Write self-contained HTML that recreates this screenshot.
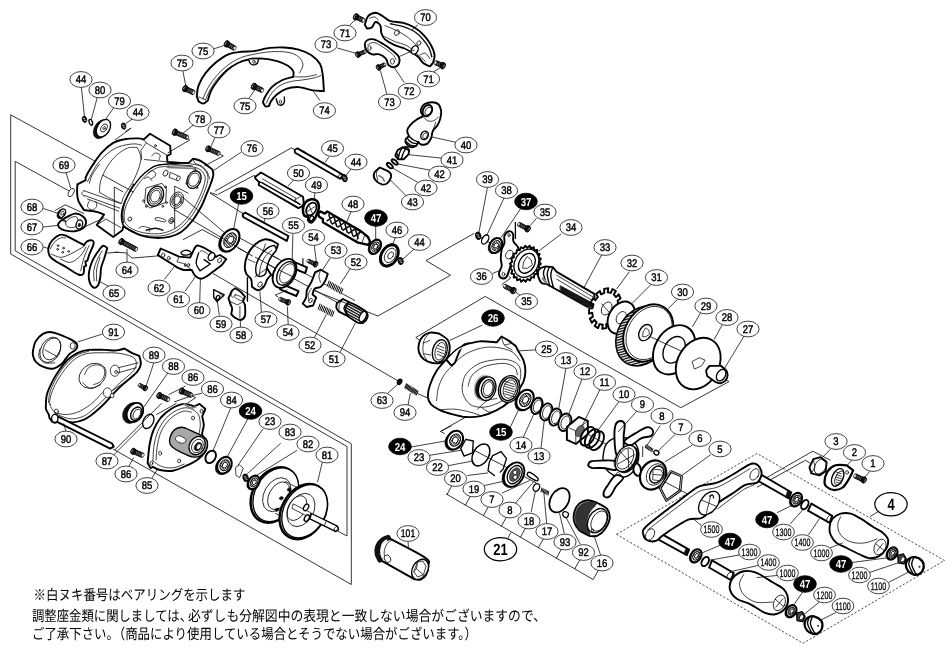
<!DOCTYPE html>
<html lang="ja"><head><meta charset="utf-8"><title>分解図</title>
<style>
html,body{margin:0;padding:0;background:#fff;}
body{width:952px;height:654px;overflow:hidden;font-family:"Liberation Sans","Noto Sans CJK JP",sans-serif;}
svg{display:block;will-change:transform;text-rendering:geometricPrecision;}
.g{fill:none;stroke:#111;stroke-width:.85;}
.gd{fill:none;stroke:#222;stroke-width:.8;stroke-dasharray:2.2 1.8;}
.ld{fill:none;stroke:#111;stroke-width:.8;}
.o{fill:#fff;stroke:#000;stroke-width:1.9;stroke-linejoin:round;stroke-linecap:round;}
.o2{fill:#fff;stroke:#000;stroke-width:1.35;stroke-linejoin:round;stroke-linecap:round;}
.t{fill:none;stroke:#111;stroke-width:.8;stroke-linejoin:round;stroke-linecap:round;}
.tw{fill:#fff;stroke:#111;stroke-width:.8;stroke-linejoin:round;}
.k{fill:#111;stroke:#000;stroke-width:.5;}
.gy{fill:#888;stroke:#000;stroke-width:.6;}
.le{fill:#fff;stroke:#222;stroke-width:.85;}
.lb{fill:#000;stroke:#000;stroke-width:.8;}
.lt{font:11px "Liberation Sans",sans-serif;text-anchor:middle;fill:#000;stroke:#000;stroke-width:.45;}
.ltb{font:bold 11.5px "Liberation Sans",sans-serif;text-anchor:middle;fill:#fff;}
.ltL{font:bold 16.2px "Liberation Sans",sans-serif;text-anchor:middle;fill:#000;}
.ltw{font:10.8px "Liberation Sans",sans-serif;text-anchor:middle;fill:#000;stroke:#000;stroke-width:.25;}
.jp{font:14.5px "Liberation Sans","Noto Sans CJK JP",sans-serif;fill:#000;}
</style></head><body>
<svg width="952" height="654" viewBox="0 0 952 654">
<defs>
<pattern id="kn" width="1.5" height="1.5" patternUnits="userSpaceOnUse"><rect width="1.5" height="1.5" fill="#fff"/><circle cx=".75" cy=".75" r=".48" fill="#000"/></pattern>
<pattern id="kd" width="1.4" height="1.4" patternUnits="userSpaceOnUse"><rect width="1.4" height="1.4" fill="#000"/><circle cx=".7" cy=".7" r=".3" fill="#bbb"/></pattern>
<pattern id="hz" width="1.6" height="1.6" patternUnits="userSpaceOnUse" patternTransform="rotate(-20)"><rect width="1.6" height="1.6" fill="#fff"/><rect width="1.6" height=".8" fill="#000"/></pattern>
<pattern id="bg" width="1.3" height="1.3" patternUnits="userSpaceOnUse" patternTransform="rotate(30)"><rect width="1.3" height="1.3" fill="#fff"/><rect width=".55" height="1.3" fill="#000"/></pattern>
<pattern id="sp" width="2.4" height="2.4" patternUnits="userSpaceOnUse" patternTransform="rotate(29)"><rect width="2.4" height="2.4" fill="#fff"/><rect width="2.4" height="1.3" fill="#000"/></pattern>
</defs>
<rect width="952" height="654" fill="#fff"/>
<g id="guides" class="g">
<!-- box A (outer-left) -->
<path d="M10.7,114.8 L133,182"/>
<path d="M10.7,114.8 V254 L347,446.5 V536 L337.5,531"/>
<!-- box B -->
<path d="M15.2,161.4 L70,191.5"/>
<path d="M15.2,161.4 V250.8 L351.3,443.8 V584.5 L113,449"/>
</g>

<g id="frame76">
<path class="o" d="M77.4,184.3L85.7,180.2C85.8,179.4 84.9,178.8 86.3,176C87.6,173.1 91.3,167.1 94,163.1C96.6,159.2 99,155.5 102.2,152.1C105.4,148.8 109.6,145.1 113.2,142.9C116.9,140.8 120,140 124.3,139.3C128.5,138.5 135.7,138.3 138.9,138.4C142.2,138.4 142.6,139.4 143.5,139.6L150,133.8L170.2,145.7L170.7,154L167,155.8L167.4,161.9C169.4,162 174,162.4 177.5,162.6C181,162.8 186.3,163 188.5,163.1L193.1,158.6C194.8,159.1 198.1,159.5 201.4,161.3C204.6,163.1 210.2,167.9 212.4,169.6C212.6,170.7 213.6,172.6 213.3,175.1C213,177.5 211.6,181.2 210.5,184.3C209.5,187.3 208.4,189.8 206.9,193.4C205.3,197.1 203.8,201.7 201.4,206.3C198.9,210.9 195.5,216.7 192.2,221C188.8,225.3 184.8,229.4 181.2,232C177.5,234.6 174.4,235.6 170.2,236.6C165.9,237.6 160.4,238.1 155.5,237.9C150.6,237.6 145.1,236.6 140.8,235.3C136.5,234 132.7,231.7 129.8,230.2C126.9,228.6 124.6,226.9 123.3,226.1L122.4,230.2L113.2,236.9L96.7,225L104.1,214.5C102.6,214 100.1,212.6 96.7,211.8C93.4,211 86.4,210.3 83.9,210C82.8,208.1 79.5,203.7 78.4,200.8C77.2,197.9 77.2,195.3 77.1,192.5C76.9,189.8 77.4,185.9 77.4,184.3Z"/>
<path class="tw" d="M99.5,192.5C99.7,190.1 99.4,185 100.8,180.6C102.1,176.1 105,170.2 107.7,165.9C110.4,161.6 113.5,157.9 116.9,154.9C120.3,151.9 124.6,149.1 127.9,147.9C131.3,146.7 135.3,147.6 137.1,147.5C137.8,149.4 140.5,153.4 140.8,156.7C141.1,160.1 140.3,163.4 138.9,167.7C137.6,172 135,177.8 132.5,182.4C130.1,187 126.1,191.8 124.3,195.3C122.4,198.8 122.1,201.9 121.5,203.5C119.5,202.6 115.1,200.8 111.4,198.9C107.7,197.1 101.9,193.8 99.5,192.5L99.5,192.5Z"/>
<path class="g" d="M102.6,175.1L133.4,192"/>
<path class="g" d="M114.3,187L114.3,200.8"/>
<path class="g" d="M114.3,187L123.3,192"/>
<path class="t" d="M87.5,181.5C89.1,178.7 93.4,169.7 96.7,165C100.1,160.3 104.1,156.4 107.7,153.4C111.4,150.4 114.5,148.4 118.7,146.8C123,145.2 129.6,144.1 133.4,143.9C137.3,143.6 140.3,145.1 141.7,145.3"/>
<path class="t" d="M89.4,183.3C89.8,182 90.4,178.3 92.1,175.1C93.8,171.9 98.2,165.9 99.5,164.1"/>
<path class="t" d="M83.9,190.7L120.6,203.5"/>
<path class="t" d="M83.9,195.3L119.7,208.1"/>
<path class="t" d="M87.5,198.9L118.7,211.2"/>
<path class="t" d="M83.9,190.7C83.5,191.1 81.7,192.5 81.7,193.4C81.7,194.4 83.5,195.7 83.9,196.2"/>
<path class="t" d="M89.4,200.8C89.1,201.7 87.1,204.8 87.5,206.3C88,207.8 90.6,210 92.1,210C93.7,210 96.1,207.7 96.7,206.3C97.3,204.9 96,202.5 95.8,201.7"/>
<path class="t" d="M143.5,139.6L146.3,142.9L166.5,154.9"/>
<path class="t" d="M146.3,142.9L140.8,150.3L141.7,159.5"/>
<ellipse class="t" cx="155.5" cy="145.7" rx="0.9" ry="1.2"/>
<path class="t" d="M151.8,155.8C152.4,155.3 154.1,153.2 155.5,153C156.8,152.9 159.4,153.8 160.1,154.9C160.7,156 159.3,158.7 159.1,159.5"/>
<path class="t" d="M144.5,159.5L167.4,161.9"/>
<path class="t" d="M167.4,164.1C163.4,164.5 159.3,164.4 155.5,165.9C151.6,167.4 147.7,170.5 144.5,173.2C141.2,176 138.9,178.7 136.2,182.4C133.4,186.1 130.2,191 127.9,195.3C125.6,199.6 123.5,204.1 122.4,208.1C121.3,212.1 121.2,216.1 121.5,219.1C121.8,222.2 122.3,224.3 124.3,226.5C126.2,228.7 129.8,230.8 133.4,232.4C137.1,233.9 141.4,235.1 146.3,235.7C151.2,236.2 157.6,236.6 162.8,235.7C168,234.7 173.2,232.8 177.5,230.2C181.8,227.6 185.1,224 188.5,220.1C191.9,216.1 195.1,210.9 197.7,206.3C200.3,201.7 202.4,196.8 204.1,192.5C205.8,188.2 207.3,183.8 207.8,180.6C208.2,177.4 207.9,175.5 206.9,173.2C205.8,170.9 203.8,168.3 201.4,166.8C198.9,165.3 195.9,164.6 192.2,164.1C188.5,163.5 183.5,163.3 179.3,163.3C175.2,163.3 171.4,163.6 167.4,164.1Z"/>
<path class="t" d="M179.3,163.3C177.3,163.4 171.4,163.6 167.4,164.1C163.4,164.5 159.3,164.4 155.5,165.9C151.6,167.4 147.7,170.5 144.5,173.2C141.2,176 138.9,178.7 136.2,182.4C133.4,186.1 130.2,191 127.9,195.3C125.6,199.6 123.5,204.1 122.4,208.1C121.3,212.1 121.2,216.1 121.5,219.1C121.8,222.2 122.3,224.3 124.3,226.5C126.2,228.7 131.9,231.4 133.4,232.4" style="stroke-width:1.15;stroke:#000"/>
<path class="t" d="M168.3,166.3C164.4,166.6 160.1,166.6 156.4,168.1C152.7,169.6 149.3,172.4 146.3,175.1C143.3,177.7 141.2,180.4 138.6,183.9C136,187.4 132.9,192.1 130.7,196.2C128.4,200.3 126.2,204.7 125.2,208.5C124.1,212.3 124,216 124.3,218.8C124.5,221.5 125.1,223.1 126.8,225C128.6,226.9 131.5,228.8 134.9,230.2C138.3,231.5 142.5,232.8 147,233.3C151.5,233.8 157.2,234.2 162.1,233.3C166.9,232.4 171.9,230.4 176,227.9C180.1,225.5 183.4,222.2 186.7,218.4C189.9,214.6 193,209.6 195.5,205.2C198,200.8 200.1,196 201.7,192C203.3,187.9 204.6,183.8 205,181C205.5,178.1 205.2,176.7 204.3,174.7C203.4,172.8 201.7,170.5 199.5,169.2C197.4,167.9 194.8,167.2 191.4,166.6C188.1,166.1 183.6,166 179.7,165.9C175.8,165.8 172.2,165.9 168.3,166.3Z"/>
<path class="t" d="M133.4,184.3C132.2,186.7 127.9,194.4 126.1,198.9C124.3,203.5 123.2,207.8 122.8,211.8C122.3,215.8 123.2,221 123.3,222.8" style="stroke-width:1.6;stroke-dasharray:1.2 1.6"/>
<path class="t" d="M146.3,187.9L161.9,183.3L166.5,188.8L165.6,202.6L150,208.1L144.8,203.5Z"/>
<ellipse class="tw" cx="155.5" cy="196.2" rx="7.6" ry="10.5" transform="rotate(25 155.5 196.2)"/>
<ellipse class="t" cx="155.5" cy="196.2" rx="6" ry="8.3" transform="rotate(25 155.5 196.2)"/>
<ellipse class="t" cx="155.5" cy="196.2" rx="4.5" ry="6.2" transform="rotate(25 155.5 196.2)"/>
<ellipse class="t" style="stroke-width:1.3" cx="155.5" cy="196.2" rx="7.6" ry="10.5" transform="rotate(25 155.5 196.2)"/>
<ellipse class="t" cx="176.9" cy="200.2" rx="6.4" ry="8.6" transform="rotate(25 176.9 200.2)"/>
<ellipse class="t" cx="176.9" cy="200.2" rx="4.8" ry="6.4" transform="rotate(25 176.9 200.2)"/>
<ellipse class="t" cx="176.9" cy="200.2" rx="3.4" ry="4.6" transform="rotate(25 176.9 200.2)"/>
<ellipse class="t" cx="194" cy="179.7" rx="6.6" ry="9.2" transform="rotate(25 194 179.7)"/>
<ellipse class="t" cx="194" cy="179.7" rx="5" ry="7" transform="rotate(25 194 179.7)"/>
<ellipse class="t" style="stroke-width:1.2" cx="194" cy="179.7" rx="6.6" ry="9.2" transform="rotate(25 194 179.7)"/>
<path class="tw" d="M170.2,172.3L178.4,176L177.5,180.6L169.2,177.3Z"/>
<ellipse class="tw" cx="178.4" cy="178.4" rx="1.6" ry="2.6" transform="rotate(30 178.4 178.4)"/>
<ellipse class="t" cx="165.6" cy="173.2" rx="2.2" ry="3.2" transform="rotate(30 165.6 173.2)"/>
<ellipse class="t" cx="165.6" cy="187" rx="0.9" ry="1.1"/>
<ellipse class="t" cx="146.3" cy="206.3" rx="0.9" ry="1.1"/>
<ellipse class="t" cx="143.5" cy="200.8" rx="0.9" ry="1.1"/>
<ellipse class="t" cx="194.9" cy="169.2" rx="0.9" ry="1.1"/>
<ellipse class="t" cx="196.8" cy="187.6" rx="0.9" ry="1.1"/>
<ellipse class="t" cx="186.7" cy="183.3" rx="0.9" ry="1.1"/>
<ellipse class="t" cx="162.8" cy="206.3" rx="0.9" ry="1.1"/>
<ellipse class="t" cx="166.5" cy="202.6" rx="0.9" ry="1.1"/>
<ellipse class="t" cx="129.8" cy="219.1" rx="1.7" ry="2.2" transform="rotate(30 129.8 219.1)"/>
<ellipse class="t" cx="171.4" cy="220.6" rx="2.4" ry="3.2" transform="rotate(30 171.4 220.6)"/>
<ellipse class="t" cx="171.4" cy="220.6" rx="1.2" ry="1.6" transform="rotate(30 171.4 220.6)"/>
<path class="t" d="M155.5,218.2C156.1,217.8 157.5,217.4 159.1,217.7C160.8,218 164.6,219.4 165.6,220.1C166.5,220.8 165.9,221.8 164.6,221.9C163.4,222 159.7,220.9 158.2,220.6C156.7,220.3 155.9,220.5 155.5,220.1C155,219.7 154.9,218.6 155.5,218.2Z"/>
<path class="t" style="stroke:#777;stroke-width:1.6" d="M167.4,167.4L194.9,168.5"/>
<path class="t" d="M170.2,164.1L192.2,165.9"/>
<path class="g" d="M174.7,186.1L174.7,228.3"/>
<path class="g" d="M174.7,186.1L188.5,193.4"/>
<path class="t" d="M138.9,228.3C139.6,228 140.8,226.5 142.6,226.5C144.5,226.5 148.9,227.4 150,228.3C151,229.2 149.2,231.4 149,232"/>
<path class="t" d="M146.3,230.2C147.8,229.8 152.7,228.3 155.5,228.3C158.2,228.3 161.6,229.8 162.8,230.2" style="stroke-width:1.5"/>
<path class="t" d="M148.1,173.2C148.7,172.8 150.6,170.5 151.8,170.5C153,170.5 155,172.2 155.5,173.2C155.9,174.3 155.3,176 154.5,176.9C153.8,177.8 151.5,178.4 150.9,178.7"/>
<path class="t" d="M144.5,178.7C145.1,178.4 146.9,176.6 148.1,176.9C149.3,177.2 151.2,180 151.8,180.6"/>
<path class="t" d="M96.7,225L105.9,219.1L120.6,227.4"/>
<path class="g" d="M114.3,200.8L114.3,236.9"/>
<path class="t" d="M193.1,158.6C193.4,159.3 193.6,161.9 194.9,163.1C196.3,164.4 199.4,164.5 201.4,165.9C203.4,167.3 205.5,169.3 206.9,171.4C208.2,173.5 209.2,177.5 209.6,178.7"/>
</g>
<g id="p79">
<g transform="translate(84.5 119.3) rotate(-15)"><ellipse cx="0" cy="0" rx="2.2" ry="3.2" fill="#111" stroke="#000" stroke-width=".8"/><path d="M-1.3,-1.4L0.8,-0.3M-0.8,0.6L1.3,1.7" stroke="#ddd" stroke-width=".7" fill="none"/></g>
<ellipse class="o2" cx="90.8" cy="122.3" rx="1.6" ry="3" transform="rotate(-20 90.8 122.3)"/>
<ellipse class="k" cx="101" cy="129.2" rx="6.8" ry="10.2" transform="rotate(30 101 129.2)"/>
<ellipse class="o2" cx="103.4" cy="128.2" rx="6.2" ry="9.5" transform="rotate(30 103.4 128.2)"/>
<ellipse class="t" cx="104" cy="128" rx="2.8" ry="4.4" transform="rotate(30 104 128)"/>
<ellipse class="t" cx="104.2" cy="128" rx="1" ry="1.6" transform="rotate(30 104.2 128)"/>
<g transform="translate(123.6 126.1) rotate(-15)"><ellipse cx="0" cy="0" rx="2.2" ry="3.2" fill="#111" stroke="#000" stroke-width=".8"/><path d="M-1.3,-1.4L0.8,-0.3M-0.8,0.6L1.3,1.7" stroke="#ddd" stroke-width=".7" fill="none"/></g>
</g>
<g transform="translate(174.9 132.2) rotate(22.9)"><rect x="0" y="-2.1" width="14.2" height="4.2" rx="1" fill="#111" stroke="#000" stroke-width=".8"/><ellipse cx="0" cy="0" rx="2.5" ry="3.4" fill="#111" stroke="#000" stroke-width=".8"/><path d="M3.4,-1.5L3.9,1.5M5.1,-1.5L5.6,1.5M6.8,-1.5L7.3,1.5M8.5,-1.5L9,1.5M10.2,-1.5L10.7,1.5M11.9,-1.5L12.4,1.5" stroke="#aaa" stroke-width=".45" fill="none"/><path d="M-1,-1.7Q-1.9,0 -1,1.7" stroke="#ccc" stroke-width=".6" fill="none"/><ellipse cx="13.6" cy="0" rx="1.2" ry="1.7" fill="#fff" stroke="#000" stroke-width=".5"/></g>
<g transform="translate(208.2 148.8) rotate(24)"><rect x="0" y="-2" width="12.4" height="4" rx="1" fill="#111" stroke="#000" stroke-width=".8"/><ellipse cx="0" cy="0" rx="2.4" ry="3.2" fill="#111" stroke="#000" stroke-width=".8"/><path d="M3.3,-1.4L3.8,1.4M5,-1.4L5.5,1.4M6.7,-1.4L7.2,1.4M8.4,-1.4L8.9,1.4M10.1,-1.4L10.6,1.4" stroke="#aaa" stroke-width=".45" fill="none"/><path d="M-1,-1.6Q-1.8,0 -1,1.6" stroke="#ccc" stroke-width=".6" fill="none"/><ellipse cx="11.8" cy="0" rx="1.1" ry="1.6" fill="#fff" stroke="#000" stroke-width=".5"/></g>
<ellipse class="tw" cx="71.2" cy="192.5" rx="2.4" ry="4.6" transform="rotate(28 71.2 192.5)"/>
<g id="p66_68">
<path class="o" d="M58,224.5C58.5,223.8 59,222.4 60.5,221.1C62,219.9 64.9,218.2 67.2,216.9C69.6,215.7 72.3,213.7 74.8,213.6C77.3,213.4 80.5,214.7 82.4,216.1C84.3,217.5 86,220 86.1,222C86.2,224 85.1,226.3 83.2,227.9C81.4,229.4 77.9,230.8 74.8,231.2C71.7,231.7 67.2,231 64.7,230.4C62.2,229.8 60.8,228.9 59.7,227.9C58.5,226.9 58.3,225.2 58,224.5Z"/>
<path class="t" d="M65.6,222.8C66,221.3 68.8,218.8 70.6,217.8C72.4,216.8 75.2,216.1 76.5,216.9C77.8,217.8 78.5,221.1 78.2,222.8C77.9,224.5 76.5,226.3 74.8,227C73.1,227.7 69.6,227.7 68.1,227C66.5,226.3 65.1,224.4 65.6,222.8Z"/>
<ellipse class="o2" cx="79.4" cy="224.5" rx="3.2" ry="4.6" transform="rotate(15 79.4 224.5)"/>
<ellipse class="k" cx="79.4" cy="225" rx="1.2" ry="1.8" transform="rotate(15 79.4 225)"/>
<ellipse class="k" cx="61" cy="213.9" rx="3.6" ry="5.2" transform="rotate(30 61 213.9)"/>
<ellipse class="o2" cx="62.2" cy="213.2" rx="3" ry="4.6" transform="rotate(30 62.2 213.2)"/>
<ellipse class="t" cx="62.5" cy="213.2" rx="1.4" ry="2.2" transform="rotate(30 62.5 213.2)"/>
<path class="t" d="M60.5,217.8C60.9,218.2 62.2,219.7 63,220.3C63.9,220.9 65.1,221 65.6,221.1" style="stroke-width:1.4"/>
<path class="o" d="M48.4,248.1C48.8,245.5 50.2,242.7 52.1,240.5C54,238.3 57.3,235.6 59.7,234.8C62,234 65.1,235.6 66.4,235.8L84.1,245.2C84.7,244.4 85.7,242.1 87.1,241.3C88.5,240.6 91.4,240 92.5,240.5C93.6,241 94,242 93.5,244.2C93,246.5 90.5,251.2 89.5,254C88.5,256.7 87.8,259.4 87.4,260.7L85.4,261.5L86.1,265.8L84.1,266.6C83.9,268 84.4,272.5 83.4,273.8C82.4,275.2 80.9,275.5 78.2,274.5C75.5,273.5 71,270 67.2,267.8C63.5,265.5 58.4,263 55.5,261C52.5,259.1 50.9,258.2 49.7,256C48.6,253.8 48,250.7 48.4,248.1Z"/>
<path class="t" d="M50.4,248.9C51,247.9 52.4,244.3 54.1,242.5C55.8,240.7 58.6,238.7 60.5,238C62.4,237.2 64.7,238 65.6,238"/>
<path class="t" d="M51.2,254C52.8,254.5 57.3,257.3 60.5,257.3C63.7,257.3 66.7,255.8 70.6,254C74.5,252.1 81.8,247.7 84.1,246.4"/>
<path class="t" d="M60.5,259C62.2,259.6 67.2,263 70.6,262.4C74,261.8 78.2,258.2 80.7,255.7C83.2,253.1 84.9,248.6 85.8,247.2"/>
<path class="t" d="M80.7,270.8C81.3,268.6 82.7,261.5 84.1,257.3C85.5,253.1 88.3,247.5 89.1,245.6"/>
<ellipse class="t" cx="58" cy="245.6" rx="0.9" ry="0.9"/>
<ellipse class="t" cx="63.5" cy="248.1" rx="0.9" ry="0.9"/>
<ellipse class="t" cx="57.6" cy="249.3" rx="0.9" ry="0.9"/>
<ellipse class="t" cx="62.7" cy="252.3" rx="0.9" ry="0.9"/>
<ellipse class="t" cx="68.6" cy="251.4" rx="0.9" ry="0.9"/>
<path class="o" d="M102.9,245.9C104.6,245.2 106.4,247.6 107.3,248.1C106.8,249.9 105.6,254.1 104.6,257.3C103.6,260.6 102,264.1 101.2,267.4C100.5,270.8 100.8,274.5 100.2,277.5C99.7,280.6 99,283.9 97.9,285.6C96.8,287.3 95.1,288.3 93.7,287.6C92.3,287 90.2,284.4 89.5,281.8C88.7,279.1 88.6,275.2 89.1,271.6C89.6,268.1 91.1,263.9 92.5,260.7C93.9,257.5 95.8,254.8 97.5,252.3C99.3,249.8 101.3,246.6 102.9,245.9Z"/>
<path class="t" d="M102.3,250.6C101.3,252.3 98.1,257.3 96.7,260.7C95.3,264.1 94.3,267.4 93.8,270.8C93.4,274.2 94.1,279.2 94.2,280.9"/>
<path class="t" d="M100.1,257.3C99.5,259.3 97.3,265.2 96.7,269.1C96.1,273.1 96.7,278.9 96.7,280.9"/>
</g>
<g transform="translate(121.5 241.6) rotate(27.9)"><rect x="0" y="-2.2" width="17.3" height="4.4" rx="1" fill="#111" stroke="#000" stroke-width=".8"/><ellipse cx="0" cy="0" rx="2.5" ry="3.3" fill="#111" stroke="#000" stroke-width=".8"/><path d="M3.4,-1.5L3.9,1.5M5.1,-1.5L5.6,1.5M6.8,-1.5L7.3,1.5M8.5,-1.5L9,1.5M10.2,-1.5L10.7,1.5M11.9,-1.5L12.4,1.5M13.6,-1.5L14.1,1.5M15.3,-1.5L15.8,1.5" stroke="#aaa" stroke-width=".45" fill="none"/><path d="M-1,-1.6Q-1.8,0 -1,1.6" stroke="#ccc" stroke-width=".6" fill="none"/><ellipse cx="16.7" cy="0" rx="1.2" ry="1.8" fill="#fff" stroke="#000" stroke-width=".5"/></g>
<g id="p62">
<path class="o" d="M157.8,255.1L160.7,248.5L179.1,256.6L190.1,257.6C191.2,255.5 193.9,249.1 195.3,247.1C196.7,245 197.1,245.5 198.5,245.6C200,245.7 203,247.4 204.1,247.8C205.9,248.9 211,251.7 212.9,253.2C214.9,254.8 215.1,256.3 215.6,257.1C216.5,256.7 218.2,254.8 220,255.1C221.8,255.5 224.9,258.3 226.2,259.1C225.3,260.3 223.5,263.3 221.8,265C220,266.7 218.3,267.6 215.9,269.4C213.5,271.2 209.8,274.3 207.4,275.9C204.9,277.5 203.2,278.8 201.2,278.8C199.2,278.8 196.9,277.4 195.3,275.9C193.7,274.4 192.5,271.2 191.8,270L183.5,270L177.9,267.9L173.2,264.7L157.8,255.1Z"/>
<path class="o2" d="M198.5,253.2C198.1,255.2 195.9,260.3 196.2,263.2C196.4,266.2 199.2,269.4 200,270.9L210.3,264C209.1,263.1 205.1,260.3 204.1,259.6"/>
<path class="t" d="M198.5,253.2C199.1,252.8 200.3,250.5 201.9,250.7C203.5,250.9 207.2,253.8 208.2,254.4"/>
<ellipse class="o2" cx="211.5" cy="256.6" rx="3" ry="4.2" transform="rotate(30 211.5 256.6)"/>
<ellipse class="t" cx="219.6" cy="260.3" rx="1.8" ry="2.6" transform="rotate(30 219.6 260.3)"/>
<ellipse class="t" cx="163.2" cy="255.1" rx="1.6" ry="2.2"/>
<ellipse class="t" cx="168.8" cy="258.1" rx="1.3" ry="1.8"/>
<ellipse class="t" cx="185.3" cy="265" rx="1" ry="1.6"/>
<ellipse class="t" cx="188.7" cy="265" rx="1" ry="1.6"/>
<path class="t" d="M179.1,256.6L176.9,261.8L183.5,263.5L191.8,270"/>
<path class="o2" d="M181.3,252.2C181.8,251.5 183.5,250.4 185,250.3C186.5,250.2 189.2,250.9 190.1,251.5C191.1,252 191.2,253.1 190.6,253.7C190,254.3 187.9,255 186.5,255.1C185,255.3 182.9,254.9 182.1,254.4C181.2,253.9 180.8,252.9 181.3,252.2Z"/>
</g>
<g id="p91">
<path class="o" d="M33,350.8C33.4,348.4 34.3,343.7 35.9,340.9C37.6,338.1 40.6,335.4 42.9,333.9C45.2,332.5 47.4,332 49.9,332C52.3,332 54.2,332.6 57.8,333.9C61.4,335.3 68.5,338.2 71.7,339.9C74.9,341.7 76.4,342.9 77.1,344.5C77.8,346 77.3,347.5 75.9,349.3C74.5,351 71.1,352.4 68.7,354.8C66.4,357.2 64.4,361.4 61.8,363.8C59.1,366.1 56,368.2 52.8,368.7C49.7,369.2 45.7,367.9 42.9,366.7C40.1,365.6 37.6,363.6 35.9,361.8C34.3,360 33.4,357.6 33,355.8C32.5,354 32.5,353.3 33,350.8Z"/>
<ellipse class="t" cx="50.4" cy="349.9" rx="9.6" ry="13.4" transform="rotate(28 50.4 349.9)"/>
<ellipse class="t" cx="51.8" cy="348.9" rx="8.2" ry="11.6" transform="rotate(28 51.8 348.9)"/>
<path class="t" d="M39.9,348.9C39.7,350.2 38.1,354.5 38.9,356.8C39.7,359.1 42.2,361.8 44.9,362.8C47.5,363.8 53.2,362.8 54.8,362.8"/>
<path class="t" d="M44.9,349.9L57.8,356.8"/>
<ellipse class="tw" cx="72.7" cy="345.9" rx="2.6" ry="3.2"/>
</g><g id="p90">
<path class="o" d="M45.9,404.5C46,402 45.9,398.2 46.9,394.6C47.9,390.9 49.9,386.6 51.8,382.7C53.8,378.7 56.1,374.5 58.8,370.7C61.4,366.9 64.6,362.8 67.7,359.8C70.9,356.8 74.2,354.5 77.7,352.8C81.2,351.2 84.1,350.3 88.6,349.9C93.1,349.4 99.9,349.8 104.5,349.9C109.2,350 113.1,350.7 116.5,350.4C119.8,350.2 122.8,348.9 124.4,348.5C126,349.4 129.9,352 132.4,353.2C134.8,354.5 137.9,355.3 139.3,355.8C139.6,357.4 141.2,361.1 140.9,363.8C140.6,366.4 139.4,369.1 137.3,371.7C135.2,374.4 131.2,377.2 128.4,379.7C125.6,382.2 123.1,384.1 120.4,386.6C117.8,389.1 115.1,391.8 112.5,394.6C109.8,397.4 107.5,400.5 104.5,403.5C101.5,406.5 97.9,409.8 94.6,412.5C91.3,415.1 88.3,417.8 84.6,419.4C81,421.1 76.5,422.3 72.7,422.4C68.9,422.5 64,420.5 61.8,420C60.4,420.6 56.8,423 54.8,422.8C52.8,422.6 50.8,420.2 49.9,418.8C48.9,417.4 49.1,415.3 48.9,414.5C48.3,413.5 46.6,411.1 46.1,409.5C45.6,407.8 45.7,407 45.9,404.5Z"/>
<path class="t" d="M49.9,404.5C49.2,401.7 50,398.9 50.8,395.6C51.7,392.3 53.4,388.3 55.2,384.6C57,381 59.3,377.3 61.8,373.7C64.3,370.1 67.4,366.1 70.3,363.2C73.2,360.3 75.9,358.1 79.1,356.4C82.3,354.8 85.4,353.8 89.6,353.2C93.9,352.6 99.7,352.8 104.5,352.8C109.3,352.8 113.8,352.6 118.4,353.2C123.1,353.9 129.4,355.2 132.4,356.8C135.3,358.4 136.1,360.5 136.3,362.8C136.6,365 135.7,367.8 133.9,370.3C132.2,372.8 128.6,375.4 126,377.7C123.4,380 121,381.8 118.4,384.2C115.9,386.7 113.1,389.4 110.5,392.2C107.8,395 105.5,398.1 102.5,400.9C99.6,403.8 96.1,407 93,409.5C89.9,412 87.2,414.5 83.8,416.1C80.5,417.6 76.2,418.7 72.7,418.8C69.2,419 65.8,417.9 62.8,416.8C59.8,415.8 57,414.5 54.8,412.5C52.7,410.4 50.5,407.3 49.9,404.5Z"/>
<path class="t" d="M48.5,402.5C48.7,400.9 48.9,396.1 49.9,392.6C50.8,389.1 52.6,385.2 54.4,381.7C56.2,378.1 58.3,374.5 60.8,371.1C63.2,367.7 66.2,364 69.1,361.2C72.1,358.4 75,356 78.3,354.4C81.5,352.8 86.9,351.9 88.6,351.4"/>
<ellipse class="t" cx="92.6" cy="375.7" rx="14.5" ry="11.5" transform="rotate(-35 92.6 375.7)"/>
<path class="t" d="M84.6,374.7C85.3,373.5 86.6,369.4 88.6,367.7C90.6,366.1 94.1,364.8 96.6,364.8C99.1,364.8 102.2,366.1 103.5,367.7C104.9,369.4 105,372.4 104.5,374.7C104,377 102.4,380 100.5,381.7C98.7,383.3 94.7,384.1 93.6,384.6"/>
<path class="t" d="M82.7,382.7C84,383.6 87.6,388.3 90.6,388.6C93.6,388.9 98.9,385.3 100.5,384.6"/>
<ellipse class="tw" cx="114.9" cy="370.7" rx="4.6" ry="5.6"/>
<ellipse class="t" cx="116.1" cy="371.9" rx="1.3" ry="1.6"/>
<ellipse class="tw" cx="107.5" cy="392.6" rx="4.2" ry="4.8"/>
<ellipse class="tw" cx="112.1" cy="395.6" rx="1.8" ry="2.2"/>
<path class="t" d="M118.4,367.7L138.3,362.8"/>
<path class="t" d="M118.4,372.7L136.3,367.7"/>
<path class="t" d="M112.5,390.6L128.4,379.7"/>
<path class="t" d="M54.8,412.5C56.5,412.8 61.1,414.5 64.8,414.5C68.4,414.5 72.4,414.1 76.7,412.5C81,410.8 86.3,407.8 90.6,404.5C94.9,401.2 100.5,394.6 102.5,392.6"/>
<ellipse class="t" cx="56.4" cy="411.5" rx="2" ry="2.4"/>
<path class="o" d="M57.2,416.1L112.1,443.5L113.7,446.7L110.1,448.7L55.2,420.8Z"/>
<ellipse class="o2" cx="54.8" cy="418.4" rx="3.2" ry="4"/>
</g>
<g transform="translate(145.3 388.2) rotate(-151.4)"><rect x="0" y="-1.8" width="7.5" height="3.6" rx="1" fill="#111" stroke="#000" stroke-width=".8"/><ellipse cx="0" cy="0" rx="2.1" ry="2.8" fill="#111" stroke="#000" stroke-width=".8"/><path d="M3,-1.3L3.5,1.3M4.7,-1.3L5.2,1.3" stroke="#aaa" stroke-width=".45" fill="none"/><path d="M-0.8,-1.4Q-1.5,0 -0.8,1.4" stroke="#ccc" stroke-width=".6" fill="none"/><ellipse cx="6.9" cy="0" rx="1" ry="1.4" fill="#fff" stroke="#000" stroke-width=".5"/></g>
<ellipse class="k" cx="131.7" cy="413" rx="8.4" ry="11" transform="rotate(30 131.7 413)"/>
<ellipse class="o" cx="134.9" cy="412.5" rx="7.6" ry="10.2" transform="rotate(30 134.9 412.5)"/>
<ellipse class="o2" cx="136.3" cy="413.7" rx="5" ry="7.2" transform="rotate(30 136.3 413.7)"/>
<ellipse class="t" cx="136.9" cy="414.1" rx="3.4" ry="5.2" transform="rotate(30 136.9 414.1)"/>
<ellipse class="o2" cx="148.3" cy="421.4" rx="5" ry="7.6" transform="rotate(28 148.3 421.4)"/>
<g id="p85">
<path class="o" d="M147.6,463C148,459.2 148.7,449.6 149.7,444C150.7,438.5 151.8,434 153.7,429.6C155.6,425.2 158,421 160.9,417.5C163.9,414.1 167.5,411 171.4,408.7C175.3,406.4 180.4,404.3 184.2,403.9C188,403.5 192.2,406 194.2,406.5L199.5,403.9L205.4,409L202.2,416.4C202.5,418.2 203.8,422 203.8,425.1C203.8,428.1 201.7,432.1 202.2,434.7C202.7,437.3 206.1,438.2 206.7,440.8C207.3,443.4 207.5,447.2 205.9,450.5C204.3,453.7 200.1,457.6 197.1,460.1C194,462.5 191.4,463.5 187.4,465.2C183.4,467 177.5,469.9 173,470.7C168.4,471.5 163.5,470.7 160.1,470C156.8,469.4 154.4,467.5 152.9,466.8L150.5,468.1L147.6,463Z"/>
<path class="t" d="M152.9,460.9C153.1,458.3 153.2,450.5 154,445.6C154.8,440.7 156,435.8 157.7,431.5C159.5,427.2 162,423.2 164.6,420C167.3,416.7 170.5,413.9 173.8,411.9C177,409.9 181.1,408.3 184.2,407.9C187.3,407.5 190.2,408.3 192.6,409.5C195,410.7 197.4,412.6 198.7,415.1C199.9,417.7 200.2,421.6 200.3,424.8C200.3,427.9 199.2,432.5 199,434.1"/>
<path class="t" d="M156.1,460.1C156.3,457.8 156.5,450.9 157.2,446.4C158,441.9 158.9,437.1 160.5,433.1C162.1,429.1 164.4,425.4 166.9,422.4C169.4,419.3 172.5,416.7 175.4,414.8C178.3,412.9 181.5,411.5 184.2,411.1C186.9,410.7 190.2,412.1 191.4,412.2"/>
<path class="t" d="M152.9,460.9C154.4,461.8 158.4,465.4 161.7,466.5C165.1,467.7 169.2,468.2 173,467.8C176.7,467.4 182.3,464.7 184.2,464.1"/>
<path class="t" d="M184.2,404.2C185.3,404.8 188.8,407.4 190.6,407.9C192.5,408.4 194.7,407.2 195.5,407.1" style="stroke:#888;stroke-width:2"/>
<path class="o2" d="M169.8,438.4C170.4,436.1 171.8,432.3 173.8,430.4C175.8,428.5 179,427.2 181.8,427.2C184.6,427.2 187,428.8 190.6,430.4C194.2,432 200.7,434.8 203.5,436.8C206.3,438.8 207.1,440.2 207.5,442.4C207.9,444.7 207.1,448.2 205.9,450.5C204.7,452.7 202.5,455 200.3,456.1C198,457.1 194.9,457.3 192.2,456.9C189.6,456.5 187.2,455 184.2,453.7C181.3,452.3 176.9,450.5 174.6,448.8C172.2,447.2 170.9,445.8 170.1,444C169.3,442.3 169.2,440.7 169.8,438.4Z" style="fill:url(#kn)"/>
<path class="t" d="M171.4,439.2C171.4,436.8 172.8,433.7 174.6,432C176.3,430.3 179.4,429.3 181.8,429.3C184.2,429.3 187.4,430.3 189,432C190.6,433.7 191.6,436.7 191.4,439.2C191.3,441.8 189.8,445.5 188.2,447.2C186.6,449 184.1,449.8 181.8,449.7C179.5,449.5 176.3,448.2 174.6,446.4C172.8,444.7 171.4,441.6 171.4,439.2Z" style="fill:none;stroke:none"/>
<path class="tw" d="M175.4,438.4C175.6,437.4 177.1,435.8 178.6,435.7C180.1,435.6 183,437.1 184.2,437.9C185.4,438.8 186.1,439.9 185.8,440.8C185.6,441.7 184,443.1 182.6,443.2C181.2,443.4 178.7,442.4 177.5,441.6C176.3,440.8 175.2,439.4 175.4,438.4Z"/>
<ellipse class="o2" cx="197.1" cy="445.6" rx="7.6" ry="9.6" transform="rotate(30 197.1 445.6)"/>
<ellipse class="t" cx="197.4" cy="446" rx="5.4" ry="7.2" transform="rotate(30 197.4 446)"/>
<ellipse class="k" cx="198" cy="446.6" rx="3.2" ry="4.6" transform="rotate(30 198 446.6)"/>
<ellipse class="tw" cx="198.7" cy="446.6" rx="2" ry="3.2" transform="rotate(30 198.7 446.6)"/>
<ellipse class="t" cx="193" cy="418" rx="1.5" ry="1.9"/>
<ellipse class="t" cx="160.1" cy="453.3" rx="1.5" ry="1.9"/>
<ellipse class="t" cx="179.1" cy="460.9" rx="1.5" ry="1.9"/>
<ellipse class="t" cx="201.6" cy="411.1" rx="1.5" ry="1.9"/>
<ellipse class="t" cx="151.3" cy="463.3" rx="1.5" ry="1.9"/>
</g>
<g transform="translate(159.3 395.5) rotate(24.2)"><rect x="0" y="-2.3" width="10.6" height="4.6" rx="1" fill="#111" stroke="#000" stroke-width=".8"/><ellipse cx="0" cy="0" rx="2.4" ry="3.2" fill="#111" stroke="#000" stroke-width=".8"/><path d="M3.3,-1.6L3.8,1.6M5,-1.6L5.5,1.6M6.7,-1.6L7.2,1.6M8.4,-1.6L8.9,1.6" stroke="#aaa" stroke-width=".45" fill="none"/><path d="M-1,-1.6Q-1.8,0 -1,1.6" stroke="#ccc" stroke-width=".6" fill="none"/><ellipse cx="10" cy="0" rx="1.3" ry="1.8" fill="#fff" stroke="#000" stroke-width=".5"/></g>
<g transform="translate(181.8 391.1) rotate(24)"><rect x="0" y="-2.3" width="11.1" height="4.6" rx="1" fill="#111" stroke="#000" stroke-width=".8"/><ellipse cx="0" cy="0" rx="2.4" ry="3.2" fill="#111" stroke="#000" stroke-width=".8"/><path d="M3.3,-1.6L3.8,1.6M5,-1.6L5.5,1.6M6.7,-1.6L7.2,1.6M8.4,-1.6L8.9,1.6" stroke="#aaa" stroke-width=".45" fill="none"/><path d="M-1,-1.6Q-1.8,0 -1,1.6" stroke="#ccc" stroke-width=".6" fill="none"/><ellipse cx="10.5" cy="0" rx="1.3" ry="1.8" fill="#fff" stroke="#000" stroke-width=".5"/></g>
<g transform="translate(133.2 451.3) rotate(23.2)"><rect x="0" y="-2.3" width="11" height="4.6" rx="1" fill="#111" stroke="#000" stroke-width=".8"/><ellipse cx="0" cy="0" rx="2.4" ry="3.2" fill="#111" stroke="#000" stroke-width=".8"/><path d="M3.3,-1.6L3.8,1.6M5,-1.6L5.5,1.6M6.7,-1.6L7.2,1.6M8.4,-1.6L8.9,1.6" stroke="#aaa" stroke-width=".45" fill="none"/><path d="M-1,-1.6Q-1.8,0 -1,1.6" stroke="#ccc" stroke-width=".6" fill="none"/><ellipse cx="10.4" cy="0" rx="1.3" ry="1.8" fill="#fff" stroke="#000" stroke-width=".5"/></g>
<ellipse class="o" cx="210.7" cy="456.9" rx="4.8" ry="6.6" transform="rotate(30 210.7 456.9)"/>
<ellipse class="k" cx="222.6" cy="466.2" rx="6.8" ry="8.8" transform="rotate(30 222.6 466.2)"/><ellipse class="o" cx="224.4" cy="465.2" rx="6.8" ry="8.8" transform="rotate(30 224.4 465.2)" style="stroke-width:2.1"/><ellipse class="t" cx="224.7" cy="465.2" rx="4.5" ry="5.8" transform="rotate(30 224.7 465.2)" style="fill:url(#bg);stroke-width:.9;stroke:#000"/><ellipse class="t" cx="224.9" cy="465.2" rx="2.3" ry="3" transform="rotate(30 224.9 465.2)" style="fill:#fff;stroke-width:.8;stroke:#000"/>
<path class="tw" d="M235.6,467.3L239.6,464.9L243.3,468.1L239.6,477.7L235.9,475.3L235.6,467.3Z"/>
<g id="p81">
<ellipse class="o" style="stroke-width:2.4" cx="274.4" cy="495" rx="21.5" ry="29.5" transform="rotate(30 274.4 495)"/>
<ellipse class="o2" cx="275.8" cy="494.7" rx="20.6" ry="28.6" transform="rotate(30 275.8 494.7)"/>
<ellipse class="t" cx="276.7" cy="494.7" rx="12.5" ry="18.2" transform="rotate(30 276.7 494.7)"/>
<ellipse class="t" cx="278.7" cy="495.7" rx="9.5" ry="15" transform="rotate(30 278.7 495.7)"/>
<path class="t" d="M285.4,481.4L296.9,487.5"/>
<path class="t" d="M275.5,513.5L286.2,518.1"/>
<ellipse class="k" cx="289.2" cy="489.5" rx="2" ry="1.5" transform="rotate(-20 289.2 489.5)"/>
<ellipse class="k" cx="281.3" cy="498.2" rx="2" ry="1.5" transform="rotate(-20 281.3 498.2)"/>
<ellipse class="k" cx="277" cy="509.7" rx="2" ry="1.5" transform="rotate(-20 277 509.7)"/>
<ellipse class="o" style="stroke-width:2.4" cx="303.3" cy="511.6" rx="21.6" ry="29.4" transform="rotate(30 303.3 511.6)"/>
<ellipse class="o2" cx="304.6" cy="511.2" rx="20.6" ry="28.4" transform="rotate(30 304.6 511.2)"/>
<ellipse class="t" cx="301" cy="510" rx="12.6" ry="17.8" transform="rotate(30 301 510)"/>
<ellipse class="t" cx="296.9" cy="508.1" rx="8.5" ry="13.5" transform="rotate(30 296.9 508.1)"/>
<path class="tw" d="M293.1,503.8L310.7,512.7L309.4,517.3L292,508.4Z"/>
<ellipse class="o2" cx="306.1" cy="507.4" rx="2.2" ry="3.6" transform="rotate(30 306.1 507.4)"/>
<ellipse class="o2" cx="306.8" cy="518.1" rx="2.2" ry="3.6" transform="rotate(30 306.8 518.1)"/>
<path class="o2" d="M311.4,513.5L337.4,526.2L338.5,529.5L335.4,531.4L309.9,518.8Z"/>
<ellipse class="t" cx="336.3" cy="529.2" rx="2" ry="2.9" transform="rotate(30 336.3 529.2)"/>
<path class="t" d="M325.9,521.6L324.4,525.7"/>
</g>
<ellipse class="k" cx="252.6" cy="483.1" rx="5.2" ry="7.2" transform="rotate(30 252.6 483.1)"/><ellipse class="o" cx="253.8" cy="482.4" rx="5.2" ry="7.2" transform="rotate(30 253.8 482.4)" style="stroke-width:2.1"/><ellipse class="t" cx="254.1" cy="482.4" rx="3.4" ry="4.8" transform="rotate(30 254.1 482.4)" style="fill:url(#bg);stroke-width:.9;stroke:#000"/><ellipse class="t" cx="254.3" cy="482.4" rx="1.8" ry="2.4" transform="rotate(30 254.3 482.4)" style="fill:#fff;stroke-width:.8;stroke:#000"/>
<g transform="translate(245.6 477.8) rotate(-15)"><ellipse cx="0" cy="0" rx="2.7" ry="3.9" fill="#111" stroke="#000" stroke-width=".8"/><path d="M-1.5,-1.7L1,-0.3M-1,0.7L1.5,2" stroke="#ddd" stroke-width=".7" fill="none"/></g>
<g id="p101">
<path class="o" d="M388,537.7C395.4,541.7 418.2,553 425,557.6C431.7,562.2 428.2,562.4 428.4,565.3C428.6,568.2 427.3,572.6 426,575C424.7,577.3 422.6,578.7 420.7,579.5C418.7,580.2 415.5,579.3 414.3,579.2L380,559.8C379.1,558.7 376.3,556.9 375.7,554.6C375.1,552.3 375.3,548.5 376.2,546C377.1,543.6 379.1,541 381.1,539.6C383,538.2 386.6,538.1 388,537.7Z"/>
<path class="t" d="M388,537.7C387,538.2 383.7,539.1 382.1,540.7C380.5,542.3 379.1,544.8 378.4,547.1C377.7,549.4 377.6,552.5 377.8,554.6C378.1,556.7 379.6,558.9 380,559.8" style="stroke-width:5.5;stroke:#111"/>
<path class="t" d="M386.4,540.2C385.8,540.7 383.6,542 382.7,543.7C381.8,545.4 381.1,548.1 381.1,550.3C381,552.6 382,556.1 382.1,557.3" style="stroke-width:1.6;stroke:#fff;stroke-dasharray:.8 1"/>
<path class="t" d="M391.8,539.8C391,540.5 388.2,542 386.9,543.9C385.7,545.8 384.6,549.1 384.3,551.4C383.9,553.7 384.5,555.9 384.8,557.8C385.2,559.8 386.1,562.3 386.4,563.2"/>
<ellipse class="o2" cx="420.1" cy="569.4" rx="7.6" ry="10.8" transform="rotate(30 420.1 569.4)"/>
<path class="t" d="M417.5,562.1L422.8,561L426,566.4L423.4,575L417.5,576.9L413.7,571.7L417.5,562.1Z"/>
<path class="t" d="M417.5,562.1C417.3,563.2 417,566.9 416.4,568.5C415.8,570.1 414.2,571.2 413.7,571.7"/>
<path class="t" d="M416.4,568.5C417.6,569.6 422.2,573.9 423.4,575"/>
<ellipse class="tw" cx="387.5" cy="558.7" rx="3" ry="4" transform="rotate(-30 387.5 558.7)"/>
</g>
<g id="center">
<path class="g" d="M215,191.2L291.4,147.9L296,150.4"/>
<path class="g" d="M218.1,194.3L254,175.5L256.3,176.7"/>
<path class="o" d="M297.5,148.4C306.5,153.6 334.6,169.5 342.2,174.4C349.7,179.2 343,176.7 342.6,177.4C342.3,178.2 340.5,178.5 340,178.8L295.1,152.8C295,152.3 294.4,150.8 294.8,150.1C295.2,149.3 297,148.7 297.5,148.4Z"/>
<ellipse class="t" cx="339.9" cy="176.4" rx="1.4" ry="2" transform="rotate(30 339.9 176.4)"/>
<g transform="translate(344.6 178.2) rotate(-15)"><ellipse cx="0" cy="0" rx="2.6" ry="3.7" fill="#111" stroke="#000" stroke-width=".8"/><path d="M-1.4,-1.6L1,-0.3M-1,0.6L1.4,1.9" stroke="#ddd" stroke-width=".7" fill="none"/></g>
<path class="o" d="M255,176.9L261,172.5L303,196.7C303.1,198 303.9,201.9 303.6,203.5C303.3,205.2 301.8,206.1 301.4,206.7L298.4,208.1L258.7,185L259.2,182.2L255.7,178.9L255,176.9Z"/>
<path class="o2" d="M259.2,182.2L261.9,182.6L300,204.3"/>
<path class="t" d="M262.4,178.8L295.9,198.2"/>
<path class="t" d="M300.9,196.7C300.4,196.9 298.7,197.4 297.7,198C296.7,198.6 295.3,200.3 295,200.3C294.6,200.4 295.7,198.6 295.9,198.2"/>
<path class="t" d="M295,200.3C295.8,201 299.2,203.6 300,204.3"/>
<path class="o" d="M302.9,209.5C303,207.4 303.8,204.4 305.2,202.7C306.6,201 309.3,199.6 311.3,199.3C313.3,199 315.8,199.8 317.1,201.1C318.4,202.5 319,205 318.9,207.2C318.9,209.5 317.4,212.9 316.6,214.9C315.9,216.9 315.2,218.2 314.3,219.5C313.5,220.7 312.3,222.4 311.3,222.5C310.3,222.7 308.7,221.1 308.2,220.2C307.8,219.3 309.2,217.9 308.5,217.2C307.9,216.4 305.4,216.9 304.4,215.7C303.5,214.4 302.8,211.7 302.9,209.5Z" style="stroke-width:2.6"/>
<ellipse class="o2" style="stroke-width:1.7" cx="311.3" cy="209" rx="4.6" ry="6.8" transform="rotate(30 311.3 209)"/>
<ellipse class="o2" cx="311.6" cy="218.3" rx="1.8" ry="2.6" transform="rotate(30 311.6 218.3)"/>
<path class="t" d="M306.7,211.8L315.1,206.5"/>
<path class="t" d="M309,205.7L312.8,214.1"/>
<path class="o" d="M318,213.6L320.6,211.5L324.8,213.6L327.2,211.5L361.1,231.4L368,237L370,241.6L368.8,244.7L365,244.2L358.1,242.7L322.9,222.2L322.9,219.1L319.1,216.7L318,213.6Z" style="stroke-width:2.4"/>
<path d="M328.7,214.1L331.5,223.6M333.9,216.2L326.6,221.1M334.1,217.2L336.8,226.7M339.3,219.4L331.9,224.3M339.4,220.4L342.2,229.8M344.6,222.5L337.3,227.4M344.8,223.5L347.5,233M350,225.6L342.6,230.5M350.1,226.6L352.9,236.1M355.3,228.8L348,233.7M355.5,229.8L358.2,239.2M360.7,231.9L353.3,236.8" stroke="#000" stroke-width="1.5" fill="none"/>
<path class="t" d="M359.9,232.4L356.2,241.2"/>
<path class="t" d="M364.5,235.5L361.9,243.1"/>
<ellipse class="k" cx="374" cy="247.3" rx="5.2" ry="7.6" transform="rotate(30 374 247.3)"/><ellipse class="o" cx="375.2" cy="246.7" rx="5.2" ry="7.6" transform="rotate(30 375.2 246.7)" style="stroke-width:2.1"/><ellipse class="t" cx="375.5" cy="246.7" rx="3.4" ry="5" transform="rotate(30 375.5 246.7)" style="fill:url(#bg);stroke-width:.9;stroke:#000"/><ellipse class="t" cx="375.7" cy="246.7" rx="1.8" ry="2.6" transform="rotate(30 375.7 246.7)" style="fill:#fff;stroke-width:.8;stroke:#000"/>
<ellipse class="k" cx="387.9" cy="256" rx="7.6" ry="11" transform="rotate(30 387.9 256)"/>
<ellipse class="o" style="stroke-width:2.6;stroke-dasharray:1.1 .55" cx="389.4" cy="255.4" rx="8" ry="11.6" transform="rotate(30 389.4 255.4)"/>
<ellipse class="o2" cx="389.4" cy="255.4" rx="7.2" ry="10.6" transform="rotate(30 389.4 255.4)"/>
<ellipse class="tw" cx="390.2" cy="255.4" rx="5.2" ry="7.8" transform="rotate(30 390.2 255.4)"/>
<ellipse class="t" cx="390.6" cy="255.4" rx="2.4" ry="3.8" transform="rotate(30 390.6 255.4)"/>
<g transform="translate(400.6 261) rotate(-15)"><ellipse cx="0" cy="0" rx="2.6" ry="3.7" fill="#111" stroke="#000" stroke-width=".8"/><path d="M-1.4,-1.6L1,-0.3M-1,0.6L1.4,1.9" stroke="#ddd" stroke-width=".7" fill="none"/></g>
<ellipse class="k" cx="228.2" cy="241.1" rx="8.4" ry="12.2" transform="rotate(33 228.2 241.1)"/><ellipse class="o" cx="229.8" cy="240.2" rx="8.4" ry="12.2" transform="rotate(33 229.8 240.2)" style="stroke-width:2.1"/><ellipse class="t" cx="230.1" cy="240.2" rx="5.5" ry="8.1" transform="rotate(33 230.1 240.2)" style="fill:url(#bg);stroke-width:.9;stroke:#000"/><ellipse class="t" cx="230.3" cy="240.2" rx="2.9" ry="4.1" transform="rotate(33 230.3 240.2)" style="fill:#fff;stroke-width:.8;stroke:#000"/>
<path class="o" d="M245.3,212.7L288.4,236L286.8,240.9L243.1,217C243.1,216.5 242.5,215 242.8,214.3C243.2,213.6 244.8,213.1 245.3,212.7Z"/>
<path class="g" d="M239.5,237.9L355,300.6"/>
<path class="g" d="M237.9,247.9L344.9,306.7"/>
<path class="o" d="M244.8,266.2C245,263.1 245.8,258.6 247.4,255C249,251.5 251.7,247.6 254.4,245C257.2,242.4 260.9,240.2 263.9,239.5C266.9,238.7 270.6,240.4 272.3,240.7L278,244C277.6,245.2 277.1,248 276.1,249.8C275.2,251.7 273.6,253.2 272.3,255C271,256.9 269.4,259 268.5,261.2C267.5,263.3 267,266.4 266.7,267.7L271.2,274.9C270.4,275.8 268.4,277.3 267.3,279.2C266.1,281.1 265.7,284.2 264.2,286.1C262.7,287.9 260.1,290.1 258.1,290.2C256.1,290.3 253.2,287.5 252,286.8C251.8,285.3 252,281.4 251.1,279.2C250.1,277 247.4,276 246.3,273.8C245.3,271.7 244.6,269.3 244.8,266.2Z"/>
<path class="o2" d="M256.6,274.9C255.8,272.9 255.6,268 256.3,264.7C257,261.4 258.9,257.8 260.9,255C262.8,252.2 265.5,249.5 267.7,247.9C270,246.2 273,245.8 274.3,245.3C274.7,246.2 276.5,248.2 276.1,249.8C275.8,251.5 273.5,253.2 272.3,255C271.1,256.9 269.7,258.7 268.8,260.9C267.9,263 267.1,266.4 266.7,267.7C266.4,269 266.4,272.4 265.4,273.8C264.5,275.3 262.3,276.3 260.9,276.4C259.4,276.6 257.3,276.9 256.6,274.9Z"/>
<path class="g" d="M254,245.6L279.2,259.3"/>
<path class="g" d="M255,257L276.1,268.5"/>
<path class="t" d="M259.3,275.4C259.6,273.7 259.8,268.6 260.9,265.4C261.9,262.3 263.6,258.8 265.4,256.3C267.3,253.7 270.8,251.2 271.9,250.2"/>
<path class="t" d="M247.9,259.3C249.1,259.8 253.8,261.9 255,262.4"/>
<path class="t" d="M255,276.9C257,275.5 264.7,269.9 266.7,268.5"/>
<path class="t" d="M265.4,244C264.9,245.6 262.9,251.7 262.4,253.2"/>
<ellipse class="t" cx="260.1" cy="284.5" rx="2" ry="2.8" transform="rotate(30 260.1 284.5)"/>
<path class="g" style="stroke-width:1.2;stroke:#000" d="M247.4,277.7L247.4,300.6"/>
<path class="o" d="M290.7,260.5L307,267.4L305.2,273.1L288.8,266.5Z"/>
<path class="o" d="M282.2,284.2L298.6,291.1L296.3,296L280.1,289.4Z"/>
<ellipse class="o" cx="284.5" cy="273.4" rx="10.4" ry="15.6" transform="rotate(30 284.5 273.4)"/>
<ellipse class="o2" cx="286.1" cy="273.4" rx="8" ry="12.8" transform="rotate(30 286.1 273.4)"/>
<ellipse class="t" cx="287.1" cy="273.4" rx="6.2" ry="10.6" transform="rotate(30 287.1 273.4)"/>
<path class="g" d="M279.2,270L294.5,277.7"/>
<g transform="translate(315.6 264.2) rotate(-155.6)"><rect x="0" y="-1.8" width="8.9" height="3.6" rx="1" fill="#111" stroke="#000" stroke-width=".8"/><ellipse cx="0" cy="0" rx="2.2" ry="3" fill="#111" stroke="#000" stroke-width=".8"/><path d="M3.1,-1.3L3.6,1.3M4.8,-1.3L5.3,1.3M6.5,-1.3L7,1.3" stroke="#aaa" stroke-width=".45" fill="none"/><path d="M-0.9,-1.5Q-1.7,0 -0.9,1.5" stroke="#ccc" stroke-width=".6" fill="none"/><ellipse cx="8.3" cy="0" rx="1" ry="1.4" fill="#fff" stroke="#000" stroke-width=".5"/></g>
<g transform="translate(288.1 302.4) rotate(-157.5)"><rect x="0" y="-1.8" width="9.6" height="3.6" rx="1" fill="#111" stroke="#000" stroke-width=".8"/><ellipse cx="0" cy="0" rx="2.2" ry="3" fill="#111" stroke="#000" stroke-width=".8"/><path d="M3.1,-1.3L3.6,1.3M4.8,-1.3L5.3,1.3M6.5,-1.3L7,1.3M8.2,-1.3L8.8,1.3" stroke="#aaa" stroke-width=".45" fill="none"/><path d="M-0.9,-1.5Q-1.7,0 -0.9,1.5" stroke="#ccc" stroke-width=".6" fill="none"/><ellipse cx="9" cy="0" rx="1" ry="1.4" fill="#fff" stroke="#000" stroke-width=".5"/></g>
<path class="g" style="stroke-width:1.1;stroke:#000" d="M302.9,258.3L302.9,265.4"/>
<path class="o" d="M315.1,272.3L320.8,269.7L327.8,273.8C327.3,275.2 326.5,278.6 325.3,280.7C324.2,282.9 322.5,285.5 320.8,286.8C319,288.2 316,287.4 314.6,288.7C313.3,289.9 312.9,293.3 312.5,294.5L316.2,297.5L313.1,305.5L306.7,307L302.7,303.6C303.4,302.4 305.4,299.8 306.1,297.5C306.8,295.2 306.1,292.4 307,289.9C307.9,287.3 310.2,284.5 311.3,282.2C312.4,280 312.9,278.1 313.6,276.4C314.2,274.8 314.8,273.1 315.1,272.3Z"/>
<path class="t" d="M320.8,269.7C320.5,270.8 319,274 318.9,276.1C318.9,278.2 320.2,281.2 320.5,282.2"/>
<ellipse class="t" cx="310.5" cy="300.6" rx="1.6" ry="2.4" transform="rotate(30 310.5 300.6)"/>
<path class="t" d="M311.3,288.4C310.8,289.4 308.6,292.4 308.2,294.5C307.8,296.5 308.9,299.6 309,300.6"/>
<g transform="translate(327.9 283.4) rotate(29.6)"><rect x="0" y="-2.7" width="16.7" height="5.4" fill="#fff" stroke="none"/><path d="M0,-2.7L0.7,2.7M1.8,-2.7L2.5,2.7M3.5,-2.7L4.2,2.7M5.2,-2.7L6,2.7M7,-2.7L7.7,2.7M8.8,-2.7L9.4,2.7M10.5,-2.7L11.2,2.7M12.2,-2.7L12.9,2.7M14,-2.7L14.7,2.7M15.8,-2.7L16.4,2.7" stroke="#000" stroke-width="0.95" fill="none" stroke-linecap="round"/></g>
<g transform="translate(318.8 306.4) rotate(27.8)"><rect x="0" y="-2.7" width="16.4" height="5.4" fill="#fff" stroke="none"/><path d="M0,-2.7L0.7,2.7M1.8,-2.7L2.5,2.7M3.5,-2.7L4.2,2.7M5.2,-2.7L6,2.7M7,-2.7L7.7,2.7M8.8,-2.7L9.4,2.7M10.5,-2.7L11.2,2.7M12.2,-2.7L12.9,2.7M14,-2.7L14.7,2.7M15.8,-2.7L16.4,2.7" stroke="#000" stroke-width="0.95" fill="none" stroke-linecap="round"/></g>
<path class="o" d="M336.8,303.3L342.9,299C345.7,300.4 353.1,303.8 357,305.9C360.9,308.1 364.4,310.1 366.2,312C367.9,313.9 367.9,315.6 367.4,317.4C366.8,319.2 364.5,322.1 362.8,322.9C361.1,323.7 358.1,322.4 357,322.3L347.8,316.2L339,311.6C338.4,310.8 336.7,309.3 336.4,307.9C336,306.5 336.7,304.2 336.8,303.3Z"/>
<path class="o2" d="M347.8,302.4C347.2,303.4 344,305.9 344,308.2C344,310.5 347.2,314.8 347.8,316.2"/>
<path class="t" d="M342.9,299C342.3,299.9 340.1,302.3 339.4,304.4C338.7,306.5 339,310.4 339,311.6"/>
<path class="o2" d="M349,302.1C350.6,302.9 354.1,304.3 357,305.9C359.8,307.6 364.4,310.1 366.2,312C367.9,313.9 367.9,315.6 367.4,317.4C366.8,319.2 364.5,322.1 362.8,322.9C361.1,323.7 358.1,322.4 357,322.3L348.6,316.6C348,315.1 345.4,311.4 345.5,309C345.6,306.6 348.3,303.5 349,302.1Z" style="fill:url(#sp)"/>
<ellipse class="o2" cx="362.8" cy="316.6" rx="3" ry="5.6" transform="rotate(25 362.8 316.6)"/>
</g>
<g id="misc">
<path class="g" d="M210.2,192.5L217.5,195"/>
<path class="g" d="M210,193L243.8,214"/>
<path class="g" d="M182,196.6L226,234"/>
<path class="g" d="M173.9,209.4L252.7,256.2"/>
<path class="g" d="M183,239.7L202.3,229.6L222.5,240.6"/>
<path class="g" d="M213,273.5L399.6,381.8"/>
<path class="g" d="M416.7,393.2L429.3,398.7"/>
<path class="g" d="M474.3,233.3L425.9,260.6L450.6,275.2L377.9,316L314.2,290.6"/>
<path class="g" d="M478,236L716,374"/>
<path class="g" d="M440.5,431.4L481.5,408.2"/>
<path class="o2" d="M213.6,289.7L224.3,294.8L217,301.7L213.8,297.5Z"/>
<ellipse class="o2" cx="217.9" cy="297.5" rx="1.6" ry="2.2" transform="rotate(30 217.9 297.5)"/>
<path class="t" d="M219.3,292.9L223.4,296.6"/>
<path class="o" d="M228.4,298.4C229.2,296.9 231,292.3 232.1,290.6C233.3,289 234.7,288.8 235.3,288.3C236.3,289 238.8,290.2 240.4,291.6C242,292.9 244,295.6 245,296.6L243.1,301.2L245,304.9C245,307.1 245.7,313.3 245,315.9C244.2,318.4 242,319.7 240.4,320C238.7,320.3 236.4,318.7 234.9,317.7C233.3,316.7 231.9,314.8 231.2,314C231.4,312.9 232.3,310.2 232.1,308.5C232,306.9 230.7,305.2 230.3,303.9C229.8,302.6 229.7,301.7 229.4,300.7C229.1,299.8 228.6,298.9 228.4,298.4Z"/>
<path class="t" d="M235.3,294.8C236.3,294.8 239.1,295.8 240.4,296.6C241.7,297.4 243,298.7 243.1,299.4C243.3,300 242.4,300.9 241.3,300.7C240.2,300.6 237.8,299.1 236.7,298.4C235.6,297.8 234.6,297.2 234.4,296.6C234.2,296 234.3,294.8 235.3,294.8Z"/>
<path class="t" d="M230.3,301.7L237.6,304.9L243.1,301.7"/>
<path class="t" d="M239.9,306.2L239.9,317.7"/>
<path class="t" d="M232.1,291.1C232,291.9 231,294.6 231.2,295.7C231.4,296.8 233.1,297.2 233.5,297.5"/>
<path class="g" style="stroke-width:1.2;stroke:#000" d="M247.5,277.3L247.5,301.7"/>
<ellipse class="k" cx="399.6" cy="381.8" rx="1.6" ry="2.4" transform="rotate(30 399.6 381.8)"/>
<ellipse class="t" style="stroke-width:1.3;stroke:#000" cx="399.6" cy="381.8" rx="2" ry="2.8" transform="rotate(30 399.6 381.8)"/>
<g transform="translate(405.4 385.6) rotate(32.6)"><rect x="0" y="-2.2" width="14.1" height="4.4" fill="#fff" stroke="none"/><path d="M0,-2.2L0.7,2.2M1.4,-2.2L2,2.2M2.7,-2.2L3.4,2.2M4.1,-2.2L4.8,2.2M5.4,-2.2L6.1,2.2M6.8,-2.2L7.5,2.2M8.1,-2.2L8.8,2.2M9.4,-2.2L10.1,2.2M10.8,-2.2L11.5,2.2M12.1,-2.2L12.8,2.2M13.5,-2.2L14.2,2.2" stroke="#000" stroke-width="1.0" fill="none" stroke-linecap="round"/></g>
</g>
<g id="p74">
<path class="o" d="M196.8,96.4C197.1,94.2 197.1,89.3 198.6,85.4C200.1,81.4 202.7,76.7 205.7,72.9C208.7,69 212.6,65.3 216.4,62.1C220.3,59 224.8,55.8 228.9,54.1C233.1,52.4 237.3,52.3 241.4,51.8C245.6,51.3 249.2,51.7 253.9,51.1C258.7,50.4 264.9,48.5 270,47.9C275.1,47.3 279.5,47.2 284.3,47.5C289,47.8 294.1,48.4 298.6,49.6C303,50.9 307.5,52.6 311.1,55C314.6,57.4 318.1,60.7 320,63.9C321.9,67.2 322,70.1 322.7,74.6C323.3,79.2 323.7,87.8 323.9,91.1C321.7,90.9 317.1,91 312.9,90.4C308.6,89.7 303,87.4 298.6,87.1C294.1,86.9 289.6,87.7 286.1,88.9C282.5,90.1 279.7,92.2 277.1,94.3C274.6,96.4 272.2,99.5 270.9,101.4C269.6,103.4 269.5,105 269.1,105.9C268.4,106 266.6,107 265.5,106.4C264.5,105.8 263.4,103.1 262.9,102.3C263.4,101.1 264,98.6 265.5,96.1C267,93.5 269,89.8 271.8,87.1C274.6,84.5 278.9,81.7 282.5,80C286.1,78.3 291.1,77.4 293.2,76.8C293.2,75.6 294.1,72.9 293.2,71.1C292.3,69.2 290.5,67.4 287.9,65.7C285.2,64.1 281.3,62.4 277.1,61.2C273,60.1 267.6,58.9 262.9,58.6C258.1,58.3 252.7,58.7 248.6,59.5C244.4,60.2 241.4,61.2 237.9,63C234.3,64.8 230.4,67.4 227.1,70.2C223.9,73 220.9,76.6 218.2,80C215.5,83.4 212.8,87.3 211.1,90.7C209.3,94.1 208.5,98.6 207.9,100.5C206.9,101.1 204.6,103.4 203,103.6C201.5,103.7 199.5,101.9 198.6,101.4L196.8,96.4Z"/>
<path class="t" d="M203,98.8C203.9,96.8 206.1,91 208.4,87.1C210.7,83.3 213.7,79.1 216.8,75.5C219.9,72 223.5,68.5 227.1,65.7C230.8,62.9 234.9,60.4 238.8,58.6C242.6,56.8 245.1,56.1 250.4,55C255.6,53.9 263.8,52.2 270,51.8C276.2,51.3 283.1,51.5 287.9,52.3C292.6,53.2 296,54.7 298.6,56.8C301.1,58.9 302.9,62.1 303,64.8C303.2,67.5 300.1,71.5 299.5,72.9"/>
<path class="t" d="M205.7,99.6C206.5,97.8 208.5,92.4 210.7,88.6C212.9,84.8 216.1,80.2 219.1,76.8C222.1,73.3 227.3,69.3 228.9,67.9"/>
<path class="t" d="M266.4,103.2C267.2,101.7 268.8,97.1 270.9,94.3C273,91.5 275.8,88.3 278.9,86.2C282.1,84.2 285.8,82.8 289.6,81.8C293.5,80.7 298.3,80.6 302.1,80C306,79.4 309.7,79 312.9,78.2C316,77.5 319.6,76 320.9,75.5"/>
<path class="t" d="M293.2,76.8C295.3,76.8 301.8,77.1 305.7,76.8C309.6,76.4 314.6,75 316.4,74.6"/>
<path class="o2" d="M248.6,59.5C248.9,60.1 249.5,62.7 250.4,63.6C251.2,64.5 252.7,64.9 253.9,64.8C255.1,64.7 256.8,63.9 257.5,63C258.2,62.1 258.2,60.1 258.4,59.5"/>
<ellipse class="t" cx="253.9" cy="61.8" rx="1.2" ry="1.6"/>
<path class="o2" d="M276.2,98.8C276.5,99.6 277.1,103.1 278,104.1C278.9,105.1 280.6,105.3 281.6,105C282.6,104.7 283.8,103.7 284.3,102.3C284.7,101 284.3,97.9 284.3,97"/>
<ellipse class="t" cx="280.4" cy="101.8" rx="1.2" ry="1.6"/>
<path class="t" d="M198.9,97C199.6,97.3 201.9,98.2 203,98.8C204.2,99.3 205.3,99.8 205.7,100"/>
</g>
<g transform="translate(226.8 43.9) rotate(29)"><rect x="0" y="-2.3" width="9.6" height="4.6" rx="1" fill="#111" stroke="#000" stroke-width=".8"/><ellipse cx="0" cy="0" rx="2.5" ry="3.4" fill="#111" stroke="#000" stroke-width=".8"/><path d="M3.4,-1.6L3.9,1.6M5.1,-1.6L5.6,1.6M6.8,-1.6L7.3,1.6" stroke="#aaa" stroke-width=".45" fill="none"/><path d="M-1,-1.7Q-1.9,0 -1,1.7" stroke="#ccc" stroke-width=".6" fill="none"/><ellipse cx="9" cy="0" rx="1.3" ry="1.8" fill="#fff" stroke="#000" stroke-width=".5"/></g>
<g transform="translate(185.2 88.6) rotate(25.6)"><rect x="0" y="-2.3" width="9.9" height="4.6" rx="1" fill="#111" stroke="#000" stroke-width=".8"/><ellipse cx="0" cy="0" rx="2.5" ry="3.4" fill="#111" stroke="#000" stroke-width=".8"/><path d="M3.4,-1.6L3.9,1.6M5.1,-1.6L5.6,1.6M6.8,-1.6L7.3,1.6M8.5,-1.6L9,1.6" stroke="#aaa" stroke-width=".45" fill="none"/><path d="M-1,-1.7Q-1.9,0 -1,1.7" stroke="#ccc" stroke-width=".6" fill="none"/><ellipse cx="9.3" cy="0" rx="1.3" ry="1.8" fill="#fff" stroke="#000" stroke-width=".5"/></g>
<g transform="translate(253.9 86.4) rotate(25.6)"><rect x="0" y="-2.3" width="9.9" height="4.6" rx="1" fill="#111" stroke="#000" stroke-width=".8"/><ellipse cx="0" cy="0" rx="2.5" ry="3.4" fill="#111" stroke="#000" stroke-width=".8"/><path d="M3.4,-1.6L3.9,1.6M5.1,-1.6L5.6,1.6M6.8,-1.6L7.3,1.6M8.5,-1.6L9,1.6" stroke="#aaa" stroke-width=".45" fill="none"/><path d="M-1,-1.7Q-1.9,0 -1,1.7" stroke="#ccc" stroke-width=".6" fill="none"/><ellipse cx="9.3" cy="0" rx="1.3" ry="1.8" fill="#fff" stroke="#000" stroke-width=".5"/></g>
<g id="p70">
<path class="o" d="M364.8,24.8C365.5,23 366.3,18.1 368.1,16.1C370,14.2 373.3,12.8 375.8,12.8C378.4,12.9 380.7,15.1 383.2,16.5C385.6,17.9 387.2,20 390.5,21.1C393.9,22.2 399.4,21.9 403.4,22.9C407.3,24 411,25.5 414.4,27.5C417.7,29.5 420.8,31.9 423.5,34.8C426.3,37.7 429,41.6 430.9,44.9C432.7,48.3 434.2,52.1 434.5,55C434.9,57.9 433.8,60.5 433.1,62.4C432.3,64.2 430.6,65.6 429.9,66.4C428.7,65.8 425.5,64.9 423.5,63.3C421.5,61.7 420.2,58.8 418,56.8C415.9,54.9 413.1,53.2 410.7,51.7C408.2,50.2 406.1,49.2 403.4,48C400.6,46.9 397.2,46.4 394.2,44.9C391.1,43.5 387.2,41.4 385,39.4C382.9,37.4 382.1,35.3 381.3,33C380.6,30.7 381.4,27.5 380.4,25.7C379.5,23.8 376.9,21.7 375.5,22C374,22.3 373.2,26.4 371.8,27.5C370.4,28.6 368,28.4 367,28.6L364.8,24.8Z"/>
<path class="t" d="M390.5,23.8C392.7,24.3 399.4,25.3 403.4,26.6C407.3,27.9 411.1,29.5 414.4,31.5C417.6,33.6 420.2,36.1 422.6,38.9C425.1,41.6 427.5,45.1 429,48C430.6,51 431.3,55.4 431.8,56.8" style="stroke-width:1.4"/>
<path class="t" d="M385,25.7C386.8,26.4 392.4,28.4 396,30.3C399.7,32.1 403.7,34.2 407,36.7C410.4,39.1 414.7,43.6 416.2,44.9"/>
<path class="t" d="M385,36.7C386.5,37.4 390.5,39.7 394.2,41.3C397.9,42.8 403.4,43.9 407,45.8C410.7,47.8 413.1,50.6 416.2,53.2C419.2,55.8 423.8,60.1 425.4,61.4"/>
<ellipse class="o2" cx="414.7" cy="49.9" rx="3.2" ry="4.4" transform="rotate(30 414.7 49.9)"/>
<ellipse class="t" cx="396.9" cy="32.6" rx="2.2" ry="3" transform="rotate(30 396.9 32.6)"/>
<ellipse class="t" cx="418.9" cy="43.1" rx="1.8" ry="2.4" transform="rotate(30 418.9 43.1)"/>
<path class="t" d="M369.4,18.3C370.3,18.1 373.5,16.6 374.9,16.9C376.4,17.2 377.5,19.6 378,20.2"/>
<path class="t" d="M419.9,55C420.8,54.7 423.7,52.6 425.4,53.2C427,53.8 429.2,57.8 429.9,58.7"/>
</g><g id="p72">
<path class="o" d="M364.8,44C365,42.2 366.1,40.7 367.6,40C369.1,39.2 371.4,38.8 374,39.4C376.6,40.1 380.1,42.2 383.2,44C386.2,45.8 389.8,48.3 392.4,50.4C394.9,52.6 397.7,54.7 398.8,56.8C399.9,59 399.7,61.6 399,63.3C398.2,65 395.9,66.8 394.2,67.1C392.5,67.4 390.1,66.5 388.7,65.1C387.3,63.7 387.5,60.5 385.9,58.7C384.4,56.9 381.8,55 379.5,54.3C377.2,53.5 374.3,54.9 372.2,54.3C370,53.7 367.9,52.3 366.7,50.6C365.5,48.9 364.7,45.8 364.8,44Z"/>
<path class="t" d="M367.6,44.9C368.7,44.5 371.4,42.1 374,42.5C376.6,42.9 380.1,45.4 383.2,47.3C386.2,49.2 390.2,52.1 392.4,54.1C394.5,56.1 395.4,58.7 396,59.6"/>
<ellipse class="t" cx="369.4" cy="48" rx="1.6" ry="2.4"/>
<ellipse class="t" cx="392.4" cy="61.4" rx="2" ry="2.8"/>
</g>
<g transform="translate(356 16.9) rotate(24.9)"><rect x="0" y="-2.2" width="8.7" height="4.4" rx="1" fill="#111" stroke="#000" stroke-width=".8"/><ellipse cx="0" cy="0" rx="2.5" ry="3.4" fill="#111" stroke="#000" stroke-width=".8"/><path d="M3.4,-1.5L3.9,1.5M5.1,-1.5L5.6,1.5M6.8,-1.5L7.3,1.5" stroke="#aaa" stroke-width=".45" fill="none"/><path d="M-1,-1.7Q-1.9,0 -1,1.7" stroke="#ccc" stroke-width=".6" fill="none"/><ellipse cx="8.1" cy="0" rx="1.2" ry="1.8" fill="#fff" stroke="#000" stroke-width=".5"/></g>
<g transform="translate(442.8 65.7) rotate(-157.3)"><rect x="0" y="-2.2" width="8.5" height="4.4" rx="1" fill="#111" stroke="#000" stroke-width=".8"/><ellipse cx="0" cy="0" rx="2.5" ry="3.4" fill="#111" stroke="#000" stroke-width=".8"/><path d="M3.4,-1.5L3.9,1.5M5.1,-1.5L5.6,1.5M6.8,-1.5L7.3,1.5" stroke="#aaa" stroke-width=".45" fill="none"/><path d="M-1,-1.7Q-1.9,0 -1,1.7" stroke="#ccc" stroke-width=".6" fill="none"/><ellipse cx="7.9" cy="0" rx="1.2" ry="1.8" fill="#fff" stroke="#000" stroke-width=".5"/></g>
<g transform="translate(357.9 54.6) rotate(-22.7)"><rect x="0" y="-1.8" width="8.5" height="3.6" rx="1" fill="#111" stroke="#000" stroke-width=".8"/><ellipse cx="0" cy="0" rx="2.2" ry="3" fill="#111" stroke="#000" stroke-width=".8"/><path d="M3.1,-1.3L3.6,1.3M4.8,-1.3L5.3,1.3M6.5,-1.3L7,1.3" stroke="#aaa" stroke-width=".45" fill="none"/><path d="M-0.9,-1.5Q-1.7,0 -0.9,1.5" stroke="#ccc" stroke-width=".6" fill="none"/><ellipse cx="7.9" cy="0" rx="1" ry="1.4" fill="#fff" stroke="#000" stroke-width=".5"/></g>
<g transform="translate(378.6 67.5) rotate(-25.9)"><rect x="0" y="-1.8" width="7.5" height="3.6" rx="1" fill="#111" stroke="#000" stroke-width=".8"/><ellipse cx="0" cy="0" rx="2.2" ry="3" fill="#111" stroke="#000" stroke-width=".8"/><path d="M3.1,-1.3L3.6,1.3M4.8,-1.3L5.3,1.3" stroke="#aaa" stroke-width=".45" fill="none"/><path d="M-0.9,-1.5Q-1.7,0 -0.9,1.5" stroke="#ccc" stroke-width=".6" fill="none"/><ellipse cx="6.9" cy="0" rx="1" ry="1.4" fill="#fff" stroke="#000" stroke-width=".5"/></g>
<g id="p40">
<path class="o" d="M421,108.8C421.6,107.4 422.8,105.2 424.6,104.2C426.5,103.1 429.7,102.3 432,102.3C434.3,102.3 436.9,102.8 438.4,104.2C439.9,105.6 440.8,108.1 441.1,110.6C441.5,113 440.8,116.4 440.2,118.9C439.6,121.3 438.7,123.3 437.5,125.3C436.3,127.3 434,128.6 432.9,130.8C431.8,132.9 432,136 431.1,138.1C430.1,140.3 429.1,142.6 427.4,143.6C425.7,144.7 422.5,144.8 421,144.5C419.4,144.2 418.8,142.3 418.2,141.8C417.8,142.5 417.6,144.5 416.4,145.5C415.2,146.4 412.6,147.6 410.9,147.3C409.2,147 407.1,145 406.3,143.6C405.4,142.2 405.3,140.3 405.7,139C406.2,137.8 408.4,136.8 409,136.3C408.7,135.2 407,132.6 407.2,130.8C407.4,128.9 408.4,127.1 410,125.3C411.5,123.4 414.2,121.3 416.4,119.8C418.5,118.2 422,117.3 422.8,116.1C423.6,114.9 421.3,113.7 421,112.4C420.7,111.2 420.4,110.1 421,108.8Z"/>
<ellipse class="o" cx="427.4" cy="110.6" rx="4.4" ry="6" transform="rotate(30 427.4 110.6)"/>
<ellipse class="t" cx="428.3" cy="111.1" rx="2.8" ry="4.2" transform="rotate(30 428.3 111.1)"/>
<ellipse class="o2" cx="424.6" cy="135.4" rx="3.6" ry="4.4" transform="rotate(30 424.6 135.4)"/>
<ellipse class="t" cx="425.2" cy="135.7" rx="2.2" ry="3" transform="rotate(30 425.2 135.7)"/>
<path class="o2" d="M409,136.3C409.8,136.9 412.1,139 413.6,140C415.2,140.9 417.4,141.5 418.2,141.8" style="fill:none"/>
<path class="o2" d="M407.6,139C408.3,139.6 410.2,141.9 411.8,142.7C413.4,143.5 416.2,143.6 417.1,143.8" style="fill:none"/>
<path class="o2" d="M406.5,142C407.2,142.6 409.3,144.8 410.9,145.5C412.5,146.1 415.2,145.9 416,146" style="fill:none"/>
<path class="t" d="M422.8,116.1C423.6,116.9 425.6,119.9 427.4,120.7C429.2,121.5 432,121.3 433.8,120.7C435.6,120.1 437.6,117.6 438.4,117"/>
<path class="t" d="M432.9,130.8C433.3,129.4 435.2,123.9 435.6,122.5"/>
</g>
<path class="o" d="M397.7,150L402.6,147.3L409,150L408.7,154.1L403.9,159.2L398,159.2L395.3,155.6L397.7,150Z"/>
<path class="o2" d="M402.6,147.3C402.2,148.1 400.6,149.9 399.9,151.9C399.1,153.9 398.3,158 398,159.2" style="fill:none"/>
<path class="o2" d="M405.7,148.6C405.3,149.4 403.9,151.6 403.2,153.3C402.4,155.1 401.6,158.2 401.3,159.2" style="fill:none"/>
<path class="o2" d="M402.6,147.3C403.3,147.2 405.8,146.5 406.8,146.9C407.9,147.4 408.7,149.5 409,150" style="fill:#333"/>
<path class="t" d="M396.2,153.3C396.6,153.8 398.1,155.1 398.4,155.9C398.6,156.7 397.8,157.9 397.7,158.3" style="stroke-width:1.6;stroke:#000"/>
<ellipse class="o" cx="394.7" cy="162" rx="1.7" ry="3.6" transform="rotate(-50 394.7 162)"/>
<ellipse class="o" cx="389.8" cy="165.6" rx="1.7" ry="3.6" transform="rotate(-50 389.8 165.6)"/>
<path class="o" d="M374.2,173C374.9,170.9 378.6,168.6 379.7,167.5C381.6,168.4 387.3,170.5 389.2,172.1C391.1,173.6 391.4,174.8 391.1,176.7C390.7,178.5 388.9,181.8 387.4,183.1C385.9,184.4 383.9,184.9 381.9,184.4C379.8,183.8 376.4,181.7 375.1,179.8C373.8,177.9 373.4,175 374.2,173Z"/>
<path class="t" d="M379.7,167.5C379.1,168.4 376.7,170.8 376.4,173C376.1,175.1 377.6,179.1 377.8,180.3"/>
<path class="t" d="M378.8,175.7C379.4,176 381.5,176.7 382.4,177.6C383.3,178.5 384,180.6 384.3,181.2" style="stroke:#777;stroke-width:1.6"/>
<g id="gears">
<path class="g" d="M420.5,341L415.8,337.5L485.2,296.4L680.8,407.7L729,381.6L726,380"/>
<g transform="translate(478.2 235.8) rotate(-15)"><ellipse cx="0" cy="0" rx="2.7" ry="3.9" fill="#111" stroke="#000" stroke-width=".8"/><path d="M-1.5,-1.7L1,-0.3M-1,0.7L1.5,2" stroke="#ddd" stroke-width=".7" fill="none"/></g>
<ellipse class="o2" cx="485.2" cy="239.4" rx="3" ry="5" transform="rotate(30 485.2 239.4)"/>
<ellipse class="k" cx="494.6" cy="246.1" rx="5.8" ry="8" transform="rotate(30 494.6 246.1)"/><ellipse class="o" cx="495.8" cy="245.5" rx="5.8" ry="8" transform="rotate(30 495.8 245.5)" style="stroke-width:2.1"/><ellipse class="t" cx="496.1" cy="245.5" rx="3.8" ry="5.3" transform="rotate(30 496.1 245.5)" style="fill:url(#bg);stroke-width:.9;stroke:#000"/><ellipse class="t" cx="496.3" cy="245.5" rx="2" ry="2.7" transform="rotate(30 496.3 245.5)" style="fill:#fff;stroke-width:.8;stroke:#000"/>
<path class="o" d="M504.4,235.8C505.2,233.8 507.6,231.5 509,231.2C510.4,230.9 512.3,232.2 513,233.9C513.8,235.6 512.6,239 513.4,241.3C514.3,243.6 517.5,245.4 518.2,247.7C518.8,250 518.3,252.6 517.3,255C516.2,257.5 513.1,259.8 511.8,262.4C510.4,264.9 509.9,268.2 509,270.6C508.1,273 507.7,275.8 506.4,277C505.2,278.3 502.9,278.7 501.7,278.1C500.4,277.5 498.9,275.4 498.9,273.4C498.9,271.3 501.4,268.5 501.7,266C502,263.6 500.8,261.4 500.8,258.7C500.8,255.9 501.1,252.1 501.7,249.5C502.3,246.9 504,245.4 504.4,243.1C504.9,240.8 503.7,237.7 504.4,235.8Z"/>
<ellipse class="t" cx="509" cy="235.2" rx="1.2" ry="1.6"/>
<ellipse class="t" cx="509.4" cy="254.5" rx="3.4" ry="4.6" transform="rotate(30 509.4 254.5)"/>
<ellipse class="t" cx="503.5" cy="274.3" rx="1.4" ry="1.9"/>
<path class="g" style="stroke-width:1.3;stroke:#000" d="M515.4,222L515.4,238.9"/>
<path class="g" d="M501.7,284.7L510.8,277.9L508.6,276.1"/>
<g transform="translate(527.7 228.8) rotate(-152.6)"><rect x="0" y="-2" width="10.7" height="4" rx="1" fill="#111" stroke="#000" stroke-width=".8"/><ellipse cx="0" cy="0" rx="2.5" ry="3.4" fill="#111" stroke="#000" stroke-width=".8"/><path d="M3.4,-1.4L3.9,1.4M5.1,-1.4L5.6,1.4M6.8,-1.4L7.3,1.4M8.5,-1.4L9,1.4" stroke="#aaa" stroke-width=".45" fill="none"/><path d="M-1,-1.7Q-1.9,0 -1,1.7" stroke="#ccc" stroke-width=".6" fill="none"/><ellipse cx="10.1" cy="0" rx="1.1" ry="1.6" fill="#fff" stroke="#000" stroke-width=".5"/></g>
<g transform="translate(513.4 290.6) rotate(-153)"><rect x="0" y="-2" width="10.5" height="4" rx="1" fill="#111" stroke="#000" stroke-width=".8"/><ellipse cx="0" cy="0" rx="2.5" ry="3.4" fill="#111" stroke="#000" stroke-width=".8"/><path d="M3.4,-1.4L3.9,1.4M5.1,-1.4L5.6,1.4M6.8,-1.4L7.3,1.4M8.5,-1.4L9,1.4" stroke="#aaa" stroke-width=".45" fill="none"/><path d="M-1,-1.7Q-1.9,0 -1,1.7" stroke="#ccc" stroke-width=".6" fill="none"/><ellipse cx="9.9" cy="0" rx="1.1" ry="1.6" fill="#fff" stroke="#000" stroke-width=".5"/></g>
<path class="o" d="M538,271.9C538.2,270.3 538.9,269.1 540.2,268.2C541.5,267.3 544.6,266.8 545.7,266.4L552.7,267.1L556.7,271.9L594.3,293.9L594.8,306L587,306.7L546.6,284C545.6,283.8 543,283.9 541.7,282.9C540.3,281.9 539.3,279.8 538.7,277.9C538.1,276.1 537.7,273.5 538,271.9Z"/>
<path class="o2" d="M545.7,266.4C545.3,267.5 543.3,270.4 543.5,273.4C543.6,276.3 546.1,282.2 546.6,284" style="fill:none"/>
<path class="o2" d="M549.4,266.8C549,268 547.1,271.1 547.2,274.3C547.2,277.4 549.3,283.9 549.7,285.8" style="fill:none"/>
<path class="o2" d="M552.7,267.1C552.4,268.5 550.7,272.1 550.8,275.6C550.9,279 553,285.6 553.4,287.7" style="fill:none"/>
<path class="t" style="fill:url(#kd)" d="M560.4,285.8L592.5,303.1L593.4,306L587,306.7L560.4,291.7Z"/>
<path class="t" d="M556.7,275.2L593.4,297.2"/>
<path class="t" d="M556.7,279.2L593.4,301.2"/>
<path class="t" style="stroke:#888;stroke-width:2.5" d="M542.9,278.5L546.1,282.5"/>
<path class="o" d="M539.7,269L536.9,270.4L537.3,273.7L534.4,274.2L534,277.6L531.2,277.1L530,280.4L527.5,279L525.6,281.8L523.6,279.6L521.2,281.8L519.9,279L517.1,280.3L516.6,277.1L513.7,277.5L514.1,274.1L511.3,273.6L512.4,270.3L510,268.8L511.8,266L509.9,263.7L512.3,261.5L511.2,258.6L513.9,257.1L513.5,253.9L516.4,253.3L516.9,249.9L519.7,250.4L520.9,247.2L523.4,248.5L525.3,245.7L527.2,247.9L529.7,245.7L531,248.6L533.8,247.2L534.2,250.5L537.2,250L536.8,253.4L539.6,254L538.4,257.2L540.9,258.7L539,261.6L540.9,263.8L538.5,266.1Z"/>
<ellipse class="o2" cx="526.4" cy="263.3" rx="11.6" ry="14.8" transform="rotate(30 526.4 263.3)"/>
<ellipse class="o2" cx="526.9" cy="263.3" rx="7.6" ry="10.6" transform="rotate(30 526.9 263.3)"/>
<path class="t" d="M532.1,265L527.5,268.3L522.7,268.2L523.6,261.9L526.9,256.5L530.7,259.5Z"/>
<path class="o" d="M619.9,313.8L617.6,318.7L615.1,316.7L612.6,320L614.4,322.9L610.6,326.1L609.5,322.6L606.2,324.2L606.4,328.1L602.2,328.8L602.8,324.7L599.5,324.1L598.1,328.1L594.6,326L596.7,322.5L594.4,319.9L591.8,322.8L589.8,318.6L592.9,316.6L592.2,312.6L589,313.7L589.2,308.4L592.4,308.4L593.5,304.2L590.6,303.2L592.9,298.3L595.4,300.3L597.9,297L596.1,294.1L599.9,290.9L601,294.4L604.3,292.8L604.1,288.9L608.3,288.3L607.7,292.3L610.9,292.9L612.4,289L615.9,291L613.8,294.5L616,297.1L618.7,294.3L620.6,298.5L617.6,300.5L618.2,304.4L621.5,303.4L621.2,308.6L618,308.6L617,312.8Z"/>
<ellipse class="t" cx="606.7" cy="308.5" rx="4.8" ry="7" transform="rotate(30 606.7 308.5)"/>
<path class="t" d="M601.8,303.9L609.8,313.1"/>
<ellipse class="o" cx="621.3" cy="317.7" rx="12.4" ry="17.2" transform="rotate(30 621.3 317.7)"/>
<ellipse class="t" cx="621.3" cy="317.7" rx="4.6" ry="6.6" transform="rotate(30 621.3 317.7)"/>
<ellipse class="o2" style="fill:url(#hz);stroke-width:1.5" cx="642.3" cy="336" rx="24.6" ry="31.6" transform="rotate(30 642.3 336)"/>
<ellipse class="o" cx="648.3" cy="333" rx="23.2" ry="30.2" transform="rotate(30 648.3 333)"/>
<ellipse class="t" cx="649.1" cy="333" rx="21.2" ry="28.2" transform="rotate(30 649.1 333)"/>
<ellipse class="o2" cx="645.4" cy="332.6" rx="6" ry="8.6" transform="rotate(30 645.4 332.6)"/>
<path class="t" d="M649.2,334.1L645.9,336.8L642.6,336.6L643.1,331.9L645.8,327.8L648.5,329.8Z"/>
<ellipse class="o" cx="674.1" cy="349.8" rx="19.2" ry="26.2" transform="rotate(30 674.1 349.8)"/>
<ellipse class="o2" cx="674.1" cy="349.8" rx="10" ry="14.2" transform="rotate(30 674.1 349.8)"/>
<path class="g" d="M648.8,336L681,351"/>
<ellipse class="o" cx="698.2" cy="363.6" rx="20.6" ry="27.2" transform="rotate(30 698.2 363.6)"/>
<path class="t" d="M692.4,361.3L699.3,357.8L705.1,360.1L701.6,365.9L694.7,368.9Z"/>
<path class="o" d="M706.2,370.5C706.6,368.7 709,366.8 709.6,365.9L721.1,365.9C722.3,367 725.9,369.5 726.9,371.6C727.8,373.7 727.8,376.6 726.9,378.5C725.9,380.4 723,382.5 721.1,383.1C719.2,383.7 716.5,382.2 715.4,381.9L707.4,376.2C707.1,375.1 705.8,372.2 706.2,370.5Z"/>
<ellipse class="o2" cx="721.1" cy="375.1" rx="4.2" ry="6.2" transform="rotate(30 721.1 375.1)"/>
</g><g id="body25">
<path class="o" d="M418.4,349C418.4,345.9 419.3,341.2 421.2,338.5C423.2,335.7 426.8,333.5 429.9,332.7C432.9,331.9 437.5,333.5 439.4,333.7C441.1,335 446.3,337.5 448,340.4C449.7,343.2 449.9,347.7 449.5,350.9C449.2,354.1 447.9,357.4 446.1,359.5C444.3,361.6 441.5,363 438.5,363.3C435.4,363.7 430.8,362.7 427.9,361.6C425.1,360.5 422.8,358.7 421.2,356.6C419.7,354.5 418.4,352 418.4,349Z"/>
<ellipse class="o2" cx="439.8" cy="350.9" rx="7.2" ry="11.4" transform="rotate(15 439.8 350.9)"/>
<ellipse class="t" cx="440.4" cy="351.3" rx="5.2" ry="9" transform="rotate(15 440.4 351.3)"/>
<path class="t" d="M429.9,332.7C428.9,334 425.2,337 424.1,340.4C423,343.7 422.5,349.3 423.2,352.8C423.8,356.3 427.1,360.1 427.9,361.6"/>
<path class="t" d="M437.4,345.3L443.9,347.8"/>
<path class="t" d="M437.4,348.3L443.9,350.8"/>
<path class="t" d="M437.4,351.3L443.9,353.8"/>
<path class="t" d="M437.4,354.3L443.9,356.8"/>
<path class="t" d="M423.2,343.2L429.9,340.4"/>
<path class="t" d="M424.1,353.7L430.8,355.1"/>
<path class="o" d="M427.9,396.8C427.8,393.6 428.4,389.6 429.9,385.3C431.3,381 433.8,375.3 436.5,371C439.3,366.7 444.2,361.8 446.1,359.5L451.8,365.8L455.1,362.4C456.5,359.1 459.5,349.4 462.4,346.1C465.2,342.9 468.7,343.6 471.9,342.9C475.1,342.1 477.3,341.4 481.5,341.3C485.6,341.2 493.7,342.1 496.8,342.3L501.5,336.5C502.9,337.3 505.8,338.8 508.2,340.4C510.6,342 514.3,345 515.9,346.1C516.3,347.1 516.9,348.5 518.2,350.9C519.4,353.3 522.3,357.1 523.5,360.4C524.7,363.8 525.4,367.4 525.4,371C525.4,374.5 524.8,378.1 523.5,381.5C522.2,384.8 520.3,387.5 517.8,391C515.2,394.5 511.7,399.3 508.2,402.5C504.7,405.7 501.2,407.9 496.8,410.1C492.3,412.4 486.6,414.7 481.5,415.9C476.4,417 471,417.3 466.2,417C461.4,416.8 457.3,415.6 452.8,414.3C448.3,413.1 443.1,411.5 439.4,409.8C435.7,408 432.7,406.2 430.8,404C428.9,401.9 428.1,399.9 427.9,396.8Z"/>
<path class="o2" d="M446.1,359.5C447.9,357.8 453,352 456.6,349.4C460.3,346.7 466.2,344.7 468.1,343.8"/>
<path class="t" d="M455.1,362.4C456.9,360.9 461.8,356.1 466.2,353.7C470.6,351.4 476.4,349.1 481.5,348C486.6,347 491.7,346.8 496.8,347.4C501.9,348.1 508.2,349.7 512.1,351.8C515.9,354 518.4,359 519.7,360.4"/>
<path class="t" d="M501.5,336.5C502,338 502.7,342.9 504.4,345.1C506.2,347.4 510.8,349.1 512.1,349.9"/>
<path class="t" d="M504.4,345.1C505.7,344.8 510.8,343.6 512.1,343.2"/>
<path class="t" d="M462.4,385.3C462.8,381.8 463.6,377.3 466.2,373.8C468.7,370.3 473.5,366.5 477.6,364.3C481.8,362 486.2,361.2 491,360.4C495.8,359.6 501.9,358.8 506.3,359.5C510.8,360.1 515.4,361.9 517.8,364.3C520.2,366.7 520.8,370.3 520.8,373.8C520.8,377.3 519.9,381.5 517.8,385.3C515.7,389.1 512.1,393.6 508.2,396.8C504.4,399.9 499.3,402.7 494.8,404.4C490.4,406.2 485.6,407.3 481.5,407.3C477.3,407.3 473,406.5 470,404.4C467,402.3 464.6,398 463.3,394.8C462,391.7 461.9,388.8 462.4,385.3Z"/>
<path class="t" d="M468.1,386.2C468.7,384.6 469.4,379.1 471.5,376.1C473.7,373.1 477.7,370 481.1,368.1C484.5,366.2 487.9,365.4 492,364.6C496,363.9 501.5,363 505.4,363.5C509.2,364 512.9,365.8 514.9,367.7C516.9,369.6 517,373.6 517.4,374.8"/>
<path class="t" d="M436.5,400.6C436.9,398.4 437.2,391.5 438.5,387.2C439.7,382.9 442.1,378.1 444.2,374.8C446.3,371.4 449.8,368.4 450.9,367.1"/>
<path class="t" d="M439.4,409.8C442,409.7 449.6,408.8 454.7,409.2C459.8,409.6 465.5,410.9 470,412.1C474.5,413.2 479.6,415.2 481.5,415.9"/>
<path class="t" d="M481.5,407.3C482.7,408.1 486.6,411.6 489.1,412.1C491.7,412.5 495.5,410.5 496.8,410.1"/>
<path class="t" d="M477.6,409.2C479.2,407.8 484,402.3 487.2,400.6C490.4,398.8 495.2,399 496.8,398.7"/>
<ellipse class="k" cx="483.7" cy="387.7" rx="9" ry="12.5" transform="rotate(15 483.7 387.7)"/>
<ellipse class="t" style="stroke:#bbb;stroke-width:1.6;stroke-dasharray:.7 .9" cx="483.7" cy="387.7" rx="9" ry="12.5" transform="rotate(15 483.7 387.7)"/>
<ellipse class="o2" cx="487.2" cy="388.7" rx="8.6" ry="12" transform="rotate(15 487.2 388.7)"/>
<ellipse class="o2" cx="487.8" cy="388.7" rx="6.2" ry="9.2" transform="rotate(15 487.8 388.7)"/>
<ellipse class="t" cx="488.2" cy="388.7" rx="4.6" ry="7.2" transform="rotate(15 488.2 388.7)"/>
<ellipse class="o2" cx="509.2" cy="389.1" rx="10.4" ry="13.6" transform="rotate(15 509.2 389.1)"/>
<ellipse class="o2" cx="509.2" cy="389.1" rx="8.6" ry="11.6" transform="rotate(15 509.2 389.1)"/>
<ellipse class="t" cx="509.7" cy="389.1" rx="6.4" ry="9.4" transform="rotate(15 509.7 389.1)"/>
<path class="t" d="M504.7,381.3L514.2,384.3"/>
<path class="t" d="M504.7,383.8L514.2,386.8"/>
<path class="t" d="M504.7,386.3L514.2,389.3"/>
<path class="t" d="M504.7,388.8L514.2,391.8"/>
<path class="t" d="M504.7,391.3L514.2,394.3"/>
<path class="t" d="M504.7,393.8L514.2,396.8"/>
</g><g id="chain">
<path class="g" d="M525,399.9L623.8,453.8"/>
<ellipse class="k" cx="523.6" cy="400.7" rx="8" ry="10.8" transform="rotate(30 523.6 400.7)"/><ellipse class="o" cx="525" cy="399.9" rx="8" ry="10.8" transform="rotate(30 525 399.9)" style="stroke-width:2.1"/><ellipse class="t" cx="525.3" cy="399.9" rx="5.3" ry="7.1" transform="rotate(30 525.3 399.9)" style="fill:url(#bg);stroke-width:.9;stroke:#000"/><ellipse class="t" cx="525.5" cy="399.9" rx="2.7" ry="3.7" transform="rotate(30 525.5 399.9)" style="fill:#fff;stroke-width:.8;stroke:#000"/>
<ellipse class="o" cx="536.9" cy="405.9" rx="5.4" ry="8.4" transform="rotate(20 536.9 405.9)"/>
<ellipse class="t" cx="537.5" cy="406.1" rx="3.8" ry="6.4" transform="rotate(20 537.5 406.1)"/>
<ellipse class="o" cx="546.3" cy="411.9" rx="5.8" ry="8.8" transform="rotate(20 546.3 411.9)"/>
<ellipse class="t" cx="546.9" cy="412.1" rx="4" ry="6.6" transform="rotate(20 546.9 412.1)"/>
<ellipse class="o" cx="555.3" cy="417.1" rx="5.8" ry="8.8" transform="rotate(20 555.3 417.1)"/>
<ellipse class="t" cx="555.9" cy="417.3" rx="4" ry="6.6" transform="rotate(20 555.9 417.3)"/>
<ellipse class="o" cx="564.9" cy="422.3" rx="6.2" ry="9" transform="rotate(20 564.9 422.3)"/>
<ellipse class="t" cx="565.5" cy="422.5" rx="4.2" ry="6.8" transform="rotate(20 565.5 422.5)"/>
<path class="o" d="M566.9,426.9L578.8,416.9L587.8,420.9L587.8,434.3L575.8,443.9L566.9,439.9Z"/>
<path class="t" d="M566.9,426.9L575.8,430.9L587.8,420.9"/>
<path class="t" d="M575.8,430.9L575.8,443.9"/>
<ellipse class="k" style="fill:#666" cx="579.8" cy="430.9" rx="3.6" ry="6.2" transform="rotate(30 579.8 430.9)"/>
<ellipse class="o" style="fill:none" cx="587.8" cy="436.3" rx="6.2" ry="10.2" transform="rotate(30 587.8 436.3)"/>
<ellipse class="o" style="fill:none" cx="592.2" cy="438.5" rx="6.2" ry="10.2" transform="rotate(30 592.2 438.5)"/>
<ellipse class="o" style="fill:none" cx="596.6" cy="440.7" rx="6.2" ry="10.2" transform="rotate(30 596.6 440.7)"/>
<path class="o2" d="M602.9,458.5C603.2,454.9 603.9,448.2 606,444.7C608,441.3 611.8,439 615.2,437.9C618.5,436.7 622.5,437 625.9,437.9C629.2,438.8 632.9,440.5 635,443.2C637.2,445.9 638.6,450.1 638.8,453.9C639.1,457.7 638.2,462.6 636.5,466.1C634.9,469.7 632,473.5 628.9,475.3C625.9,477.1 621.5,477.3 618.2,476.8C614.9,476.3 611.3,474 609,472.2C606.7,470.5 605.5,468.4 604.5,466.1C603.4,463.8 602.7,462.1 602.9,458.5Z"/>
<path class="o" d="M616.7,455.4C615.2,452.9 614.5,440.8 614.4,435.6C614.3,430.3 614.9,426.5 615.9,424.1C616.9,421.7 619,421 620.5,421C622,421 624.1,421.7 624.6,424.1C625.2,426.5 624,431.1 623.7,435.6C623.5,440 624.3,447.5 623.1,450.9C621.9,454.2 618.1,458 616.7,455.4Z"/>
<path class="o" d="M624.3,440.9C625.5,438.7 634.3,434 638.1,431.7C641.9,429.5 644.8,427.4 647.2,427.2C649.7,426.9 652.1,428.8 652.7,430.2C653.4,431.7 653.2,434.5 651.2,435.9C649.3,437.2 644.5,436.8 641.1,438.3C637.8,439.8 634,444.6 631.2,445C628.4,445.5 623.2,443.1 624.3,440.9Z"/>
<path class="o" d="M615.2,461.2C612.5,459.7 603.9,460.6 599.9,460.6C595.8,460.7 592.6,460.8 590.7,461.5C588.8,462.3 588,464.3 588.3,465.4C588.5,466.4 589.8,467.5 592.2,468C594.7,468.4 599,467.7 602.9,468C606.9,468.3 613.9,470.9 615.9,469.8C618,468.7 617.8,462.8 615.2,461.2Z"/>
<path class="o" d="M615.5,475.3C613,476.4 610.2,481.7 608.3,484.5C606.3,487.3 604.2,490 603.7,492.1C603.2,494.2 604.1,496.4 605.2,497C606.4,497.6 608.8,497.3 610.6,495.5C612.4,493.7 614,489.2 616.1,486.3C618.2,483.4 623.2,479.9 623.1,478.1C623,476.2 617.9,474.2 615.5,475.3Z"/>
<path class="o" d="M635.3,463.1C634.3,463.8 633.2,468.6 633.5,470.7C633.7,472.8 635.6,475.1 636.9,475.6C638.1,476.1 640.3,475.4 640.8,473.8C641.3,472.2 640.8,467.9 639.9,466.1C639,464.4 636.4,462.3 635.3,463.1Z"/>
<ellipse class="k" cx="627.9" cy="459.5" rx="9.6" ry="14.4" transform="rotate(30 627.9 459.5)"/>
<ellipse class="o2" cx="625.9" cy="458.5" rx="9.4" ry="14.2" transform="rotate(30 625.9 458.5)"/>
<ellipse class="t" cx="625.4" cy="458.5" rx="7.2" ry="11.6" transform="rotate(30 625.4 458.5)"/>
<path class="t" d="M619,450.1L632.7,465.4"/>
<path class="t" d="M628.1,448.6L628.6,467.7"/>
<path class="t" d="M618.2,463.8L634.3,454.7"/>
<path class="t" d="M616.7,455.4C616.2,456.5 614.1,459.2 613.9,461.5C613.8,463.9 615.6,468.4 615.9,469.8"/>
<path class="t" d="M615.5,475.3C615.9,474.8 616.9,471.8 618.2,472.2C619.5,472.7 622.3,477.1 623.1,478.1"/>
<g transform="translate(645.4 446) rotate(31)"><rect x="0" y="-1.6" width="8.9" height="3.2" fill="#fff" stroke="none"/><path d="M0,-1.6L0.7,1.6M1.3,-1.6L2,1.6M2.6,-1.6L3.3,1.6M3.9,-1.6L4.6,1.6M5.2,-1.6L5.9,1.6M6.5,-1.6L7.2,1.6M7.8,-1.6L8.5,1.6" stroke="#000" stroke-width="0.9" fill="none" stroke-linecap="round"/></g>
<ellipse class="o2" cx="656.4" cy="452.7" rx="2.6" ry="2.2" transform="rotate(30 656.4 452.7)"/>
<path class="g" d="M642.7,446.3L642.7,457"/>
<ellipse class="o" style="stroke-width:2.2" cx="653.1" cy="475" rx="12.4" ry="15.2" transform="rotate(30 653.1 475)"/>
<ellipse class="t" cx="655.6" cy="474.5" rx="8.6" ry="11.4" transform="rotate(30 655.6 474.5)"/>
<ellipse class="o2" cx="656.6" cy="474.5" rx="6.4" ry="9" transform="rotate(30 656.6 474.5)"/>
<path class="t" d="M653.4,469.2L661,470L663.8,475.3L659.5,480.7L653.1,479.9Z"/>
<path class="t" d="M653.4,474.5L663.8,475.3"/>
<path class="o" style="fill:none;stroke-width:2.6" d="M670.9,471.5L681.6,476.1L680.1,490.6L666.4,500.5L660.2,488.3Z"/>
<path class="t" style="stroke:#fff;stroke-width:.7" d="M670.9,471.5L681.6,476.1L680.1,490.6L666.4,500.5L660.2,488.3Z"/>
<path class="g" d="M663.8,481.4L687,493.6"/>
</g>
<g id="bottomrow">
<path class="g" d="M446.4,494L593.2,579.6"/>
<path class="g" d="M452,485.5L446.7,495"/>
<path class="g" d="M470.5,496L465.2,505.5"/>
<path class="g" d="M488.5,506.5L483.2,516"/>
<path class="g" d="M506.5,517L501.2,526.5"/>
<path class="g" d="M525.5,528L520.2,537.5"/>
<path class="g" d="M543.5,538.5L538.2,548"/>
<path class="g" d="M561.5,549L556.2,558.5"/>
<path class="g" d="M580,559.5L574.7,569"/>
<path class="g" d="M598.5,570L593.2,579.5"/>
<path class="g" d="M451.5,425.8L440.5,431.4L444.7,433.7"/>
<path class="g" d="M454.8,440.1L536.4,483"/>
<ellipse class="k" cx="453.2" cy="441" rx="7.8" ry="9.8" transform="rotate(30 453.2 441)"/><ellipse class="o" cx="454.8" cy="440.1" rx="7.8" ry="9.8" transform="rotate(30 454.8 440.1)" style="stroke-width:2.1"/><ellipse class="t" cx="455.1" cy="440.1" rx="5.1" ry="6.5" transform="rotate(30 455.1 440.1)" style="fill:url(#bg);stroke-width:.9;stroke:#000"/><ellipse class="t" cx="455.3" cy="440.1" rx="2.7" ry="3.3" transform="rotate(30 455.3 440.1)" style="fill:#fff;stroke-width:.8;stroke:#000"/>
<path class="o2" d="M465.8,439.3L473.3,441L472.5,452.8L464.1,456.1L460.7,448.6Z"/>
<ellipse class="o" style="fill:none;stroke-width:1.5" cx="480.9" cy="454.9" rx="7.8" ry="11.8" transform="rotate(30 480.9 454.9)"/>
<path class="o2" d="M494.4,475.5L488,470.8L489.3,462.3L492.7,455.6L501.1,451.6L506.5,458.6L503.1,469.1L500.2,472.1" style="fill:none"/>
<ellipse class="k" cx="512.5" cy="475.1" rx="9.4" ry="13.2" transform="rotate(30 512.5 475.1)"/>
<ellipse class="o" cx="514.1" cy="474.6" rx="9.2" ry="13" transform="rotate(30 514.1 474.6)"/>
<ellipse class="o2" cx="514.7" cy="474.6" rx="6.6" ry="9.8" transform="rotate(30 514.7 474.6)"/>
<ellipse class="k" style="fill:#555" cx="514.9" cy="474.6" rx="4.6" ry="7.4" transform="rotate(30 514.9 474.6)"/>
<ellipse class="tw" cx="514.9" cy="472.4" rx="2" ry="2.2" transform="rotate(30 514.9 472.4)"/>
<ellipse class="tw" cx="515.1" cy="477.2" rx="2" ry="2.2" transform="rotate(30 515.1 477.2)"/>
<path class="o2" d="M527.2,473.8C527.4,473.1 528.3,471.8 530,472.4C531.7,473.1 535.9,476.2 537.3,477.5C538.6,478.8 538.4,479.7 538.1,480.2C537.8,480.7 537.2,481.2 535.6,480.5C533.9,479.9 529.7,477.4 528.3,476.3C526.9,475.2 526.9,474.4 527.2,473.8Z"/>
<ellipse class="o2" cx="536.4" cy="487.5" rx="3" ry="4" transform="rotate(30 536.4 487.5)"/>
<g transform="translate(541.1 489.6) rotate(26.6)"><rect x="0" y="-1.8" width="8.6" height="3.6" fill="#fff" stroke="none"/><path d="M0,-1.8L0.7,1.8M1.3,-1.8L2,1.8M2.6,-1.8L3.3,1.8M3.9,-1.8L4.6,1.8M5.2,-1.8L5.9,1.8M6.5,-1.8L7.2,1.8M7.8,-1.8L8.5,1.8" stroke="#000" stroke-width="0.9" fill="none" stroke-linecap="round"/></g>
<ellipse class="o" style="fill:none;stroke-width:1.8" cx="559.5" cy="500.3" rx="9" ry="13" transform="rotate(30 559.5 500.3)"/>
<path class="o2" d="M562.8,513.2C563,512.4 564.4,511.6 565.3,511.7C566.3,511.8 568.3,512.9 568.5,513.8C568.8,514.8 567.6,517 566.8,517.5C566,517.9 564.5,517.1 563.8,516.4C563.1,515.7 562.5,514 562.8,513.2Z"/>
<path class="o" d="M573.9,514.3C574.5,511.2 575.9,506.9 578.2,504.6C580.5,502.3 584.8,500.7 587.8,500.3C590.8,500 594.7,502 596.4,502.5C598.5,503.8 604.9,506.2 607.1,508.9C609.3,511.6 610,515.1 609.7,518.5C609.3,521.9 607,526.4 604.9,529.2C602.9,532.1 600,534.5 597.5,535.7C595,536.8 591.5,536 590,536.1C587.8,534.9 581.8,532.5 579.2,530.3C576.7,528.1 575.4,525.5 574.5,522.8C573.6,520.1 573.3,517.3 573.9,514.3Z"/>
<path class="k" d="M575.4,514.3C576,511.5 577.2,508.2 579.2,506.1C581.3,504 585,502.3 587.8,501.8C590.7,501.4 596,501.8 596.4,503.5C596.7,505.3 591.6,508.9 590,512.1C588.3,515.3 586.7,519.1 586.7,522.8C586.7,526.6 591.1,533.5 590,534.6C588.8,535.7 582,531.3 579.7,529.2C577.3,527.2 576.5,524.9 575.8,522.4C575.1,519.9 574.8,517 575.4,514.3Z" style="fill:url(#kd)"/>
<path class="t" d="M575.4,514.3C576,511.5 577.2,508.2 579.2,506.1C581.3,504 585,502.3 587.8,501.8C590.7,501.4 596,501.8 596.4,503.5C596.7,505.3 591.6,508.9 590,512.1C588.3,515.3 586.7,519.1 586.7,522.8C586.7,526.6 591.1,533.5 590,534.6C588.8,535.7 582,531.3 579.7,529.2C577.3,527.2 576.5,524.9 575.8,522.4C575.1,519.9 574.8,517 575.4,514.3Z" style="stroke:none;fill:#fff;fill-opacity:.12"/>
<ellipse class="o2" cx="597.5" cy="520.7" rx="9" ry="13" transform="rotate(30 597.5 520.7)"/>
<ellipse class="t" cx="599" cy="521.1" rx="7" ry="11" transform="rotate(30 599 521.1)"/>
<ellipse class="t" cx="592.5" cy="530.3" rx="1.2" ry="1.6"/>
</g>
<g id="handle">
<path class="gd" d="M616.5,534.3L757,453.5L944.5,560.5L803,643.3Z"/>
<path class="g" d="M756,483.7L812.8,451.2L830.6,460.3"/>
<path class="g" d="M757,487.3L805.4,460.3L810.8,463.5"/>
<path class="o" d="M657,531.3L689.1,549.6L686.8,555.1L654.7,537.5Z"/>
<path class="k" d="M686.1,548.2L689.1,549.6L686.8,555.1L683.8,553.7Z"/>
<path class="o" d="M756.8,472.1L791.2,492.3L788.9,498.5L754,478.5Z"/>
<path class="k" d="M787.7,490.4L791.2,492.3L788.9,498.5L785.4,496.9Z"/>
<path class="o" d="M643.2,534C642.9,532.1 641.7,531.3 644.4,528.3C647.1,525.2 653.8,520.1 659.3,515.7C664.8,511.3 672.1,506.1 677.6,501.9C683.2,497.7 688.7,493.1 692.5,490.4C696.4,487.8 696.4,487.2 700.6,485.9C704.8,484.5 712,484.5 717.8,482.4C723.5,480.3 729.8,476.2 735,473.2C740.1,470.3 745.3,466.3 748.7,464.8C752.2,463.2 753.7,463.2 755.6,463.8C757.6,464.5 759.5,466.7 760.4,468.7C761.4,470.6 762,473.2 761.3,475.5C760.7,477.9 759.4,481.1 756.8,482.7C754.1,484.2 749.5,483 745.3,484.9C741.1,486.9 735.7,491.4 731.5,494.1C727.3,496.9 723.3,499 720.1,501.5C716.8,503.9 715.1,506 712,508.8C709,511.5 705.5,516.2 701.7,518C697.9,519.7 693.3,518 689.1,519.3C684.9,520.7 680.9,523.5 676.5,526.2C672.1,528.9 666.2,532.9 662.7,535.4C659.3,537.8 658.5,540.1 655.9,540.9C653.2,541.7 648.8,541.1 646.7,540C644.6,538.8 643.6,536 643.2,534Z"/>
<path class="t" d="M647.8,529.9C650.1,528.1 656.4,523.1 661.6,519.1C666.8,515.1 673.4,510.1 678.8,506C684.1,502 689.9,497.6 693.7,495C697.5,492.4 697.7,491.8 701.7,490.4C705.7,489.1 712.2,489.1 717.8,487C723.3,484.9 729.6,480.9 735,477.8C740.3,474.8 747.4,470.2 749.9,468.7"/>
<path class="t" d="M717.8,508.8C719.7,507.3 724.8,503.3 729.2,500.1C733.6,496.8 739.9,491.9 744.1,489.3C748.3,486.7 752.7,485.5 754.5,484.7"/>
<ellipse class="o2" cx="709.1" cy="503.1" rx="8.4" ry="13.4" transform="rotate(38 709.1 503.1)"/>
<path class="t" d="M701.7,500.1L716.6,506.5"/>
<path class="t" d="M710.9,495L706.3,513.4"/>
<path class="t" d="M709.7,496.2C710.2,496 712.1,494.8 712.7,495C713.4,495.3 713.5,497.3 713.6,497.8" style="stroke-width:1.3"/>
<ellipse class="t" cx="650.1" cy="534.5" rx="4" ry="6.2" transform="rotate(30 650.1 534.5)"/>
<ellipse class="t" cx="754.5" cy="474.4" rx="4" ry="6.2" transform="rotate(30 754.5 474.4)"/>
<ellipse class="k" cx="694.8" cy="556.5" rx="5" ry="7" transform="rotate(30 694.8 556.5)"/><ellipse class="o" cx="696" cy="555.8" rx="5" ry="7" transform="rotate(30 696 555.8)" style="stroke-width:2.1"/><ellipse class="t" cx="696.3" cy="555.8" rx="3.3" ry="4.6" transform="rotate(30 696.3 555.8)" style="fill:url(#bg);stroke-width:.9;stroke:#000"/><ellipse class="t" cx="696.5" cy="555.8" rx="1.7" ry="2.4" transform="rotate(30 696.5 555.8)" style="fill:#fff;stroke-width:.8;stroke:#000"/>
<ellipse class="o" cx="705.2" cy="561.5" rx="3.2" ry="5" transform="rotate(30 705.2 561.5)"/>
<path class="o" d="M712,560.4L733.8,573L731.1,580.3L709.1,567.5Z"/>
<ellipse class="t" cx="729.7" cy="575.7" rx="2.4" ry="3.8" transform="rotate(30 729.7 575.7)"/>
<ellipse class="k" cx="795.1" cy="500.2" rx="5.2" ry="7.2" transform="rotate(30 795.1 500.2)"/><ellipse class="o" cx="796.3" cy="499.6" rx="5.2" ry="7.2" transform="rotate(30 796.3 499.6)" style="stroke-width:2.1"/><ellipse class="t" cx="796.6" cy="499.6" rx="3.4" ry="4.8" transform="rotate(30 796.6 499.6)" style="fill:url(#bg);stroke-width:.9;stroke:#000"/><ellipse class="t" cx="796.8" cy="499.6" rx="1.8" ry="2.4" transform="rotate(30 796.8 499.6)" style="fill:#fff;stroke-width:.8;stroke:#000"/>
<ellipse class="o" cx="804.8" cy="504.6" rx="3.2" ry="5" transform="rotate(30 804.8 504.6)"/>
<path class="o" d="M811.4,503.6L832.2,515.7L829.6,522.8L808,510.7Z"/>
<ellipse class="t" cx="829.6" cy="518.7" rx="2.4" ry="3.8" transform="rotate(30 829.6 518.7)"/>
<path class="o" d="M829.6,526.8C829.9,524.1 830.8,520.9 832.6,518.7C834.5,516.6 837.7,514.5 840.7,513.7C843.7,512.9 847.4,512.9 850.8,513.7C854.1,514.5 857.1,516.6 860.8,518.7C864.5,520.9 869.3,524.5 872.9,526.8C876.6,529.2 880.5,530.7 883,532.9C885.6,535 887.6,537.2 888.1,539.9C888.6,542.6 887.6,546.3 886.1,549C884.5,551.7 881.9,554.5 879,556.1C876.1,557.6 872.3,558.4 868.9,558.1C865.6,557.7 862.5,555.7 858.8,554C855.1,552.4 850.4,549.8 846.7,548C843,546.1 839.3,545.1 836.6,542.9C834,540.8 831.8,537.6 830.6,534.9C829.4,532.2 829.2,529.5 829.6,526.8Z"/>
<path class="t" d="M840.7,516.7C840.2,518.1 837.7,521.8 837.7,524.8C837.7,527.8 838.5,532 840.7,534.9C842.9,537.7 846.7,540.6 850.8,541.9C854.8,543.3 860.5,543.5 864.9,542.9C869.3,542.4 875,539.6 877,538.9"/>
<ellipse class="t" cx="880" cy="547" rx="5.6" ry="8.2" transform="rotate(25 880 547)"/>
<path class="t" d="M876,544L884,550.6"/>
<path class="t" d="M883,543.4L877,551"/>
<path class="o" d="M729.9,589.2C729.2,585.7 730.4,581.1 732.7,578.2C734.9,575.2 739.8,572.2 743.7,571.3C747.6,570.4 751.2,570.8 756,572.7C760.9,574.5 768,579.5 772.6,582.3C777.1,585 781,586.4 783.6,589.2C786.1,591.9 787.7,595.6 788,598.8C788.2,602 787.3,605.9 785.2,608.4C783.1,611 778.8,613.5 775.3,614.2C771.8,614.9 768.4,614.2 764.3,612.6C760.2,610.9 755.1,606.6 750.5,604.3C746,602 740.2,601.3 736.8,598.8C733.3,596.3 730.6,592.6 729.9,589.2Z"/>
<path class="t" d="M743.7,574.6C743,576.1 739.5,580.3 739.5,583.7C739.5,587 740.9,591.6 743.7,594.7C746.4,597.7 751.2,600.9 756,602.1C760.9,603.3 769.8,602.1 772.6,602.1"/>
<ellipse class="t" cx="779.4" cy="602.9" rx="5.6" ry="8.2" transform="rotate(25 779.4 602.9)"/>
<path class="t" d="M775.3,599.3L783.6,606.5"/>
<path class="t" d="M783,598.8L775.9,607.1"/>
<ellipse class="k" cx="790.1" cy="611.8" rx="4.8" ry="6.4" transform="rotate(30 790.1 611.8)"/><ellipse class="o" cx="791.3" cy="611.2" rx="4.8" ry="6.4" transform="rotate(30 791.3 611.2)" style="stroke-width:2.1"/><ellipse class="t" cx="791.6" cy="611.2" rx="3.2" ry="4.2" transform="rotate(30 791.6 611.2)" style="fill:url(#bg);stroke-width:.9;stroke:#000"/><ellipse class="t" cx="791.8" cy="611.2" rx="1.6" ry="2.2" transform="rotate(30 791.8 611.2)" style="fill:#fff;stroke-width:.8;stroke:#000"/>
<path class="o2" style="fill:#444" d="M796.6,613.2L802.1,611.7L805.1,616.7L802.6,621.7L797.1,620.7Z"/>
<ellipse class="tw" cx="801.6" cy="617.2" rx="1.8" ry="2.8" transform="rotate(30 801.6 617.2)"/>
<path class="o" style="stroke-width:2.3" d="M804.5,623.9C804.6,621.9 805.9,619.2 807.5,617.9C809.1,616.7 811.8,615.9 814,616.3C816.3,616.8 819.6,618.6 821,620.4C822.4,622.3 822.6,625.4 822.2,627.4C821.8,629.5 820.1,631.9 818.5,632.9C816.9,634 814.4,634.2 812.5,633.7C810.6,633.3 808.3,632.1 807,630.4C805.7,628.8 804.4,626 804.5,623.9Z"/>
<path class="o2" d="M809.5,616.9C809.2,618 807.3,621.1 807.5,623.4C807.7,625.8 810,629.4 810.8,631.1C811.6,632.9 812.2,633.3 812.5,633.7" style="fill:none"/>
<path class="o2" d="M812.5,616.5C812.2,617.7 810.2,621 810.4,623.4C810.6,625.9 812.8,629.7 813.6,631.3C814.5,633 815.2,633.2 815.5,633.5" style="fill:none"/>
<ellipse class="t" cx="818" cy="625.9" rx="0.6" ry="0.6"/>
<ellipse class="k" cx="891.1" cy="554.1" rx="4.8" ry="6.4" transform="rotate(30 891.1 554.1)"/><ellipse class="o" cx="892.3" cy="553.4" rx="4.8" ry="6.4" transform="rotate(30 892.3 553.4)" style="stroke-width:2.1"/><ellipse class="t" cx="892.6" cy="553.4" rx="3.2" ry="4.2" transform="rotate(30 892.6 553.4)" style="fill:url(#bg);stroke-width:.9;stroke:#000"/><ellipse class="t" cx="892.8" cy="553.4" rx="1.6" ry="2.2" transform="rotate(30 892.8 553.4)" style="fill:#fff;stroke-width:.8;stroke:#000"/>
<path class="o2" style="fill:#444" d="M897.8,555.4L903.3,553.9L906.3,558.9L903.8,563.9L898.3,562.9Z"/>
<ellipse class="tw" cx="902.8" cy="559.4" rx="1.8" ry="2.8" transform="rotate(30 902.8 559.4)"/>
<path class="o" style="stroke-width:2.3" d="M905.8,564.8C905.9,562.7 907.2,560 908.8,558.8C910.4,557.5 913,556.8 915.3,557.2C917.5,557.6 920.9,559.4 922.3,561.3C923.6,563.1 923.9,566.2 923.5,568.3C923.1,570.4 921.4,572.7 919.8,573.8C918.2,574.8 915.7,575 913.8,574.6C911.9,574.2 909.6,572.9 908.3,571.3C906.9,569.6 905.7,566.9 905.8,564.8Z"/>
<path class="o2" d="M910.8,557.8C910.4,558.9 908.6,561.9 908.8,564.3C909,566.6 911.2,570.3 912.1,572C912.9,573.7 913.5,574.1 913.8,574.6" style="fill:none"/>
<path class="o2" d="M913.8,557.4C913.4,558.5 911.5,561.8 911.7,564.3C911.9,566.7 914,570.5 914.9,572.2C915.7,573.9 916.5,574 916.8,574.4" style="fill:none"/>
<ellipse class="t" cx="919.3" cy="566.8" rx="0.6" ry="0.6"/>
<path class="o" d="M809.4,467.3L813.4,459.2L820.5,457.2L826.6,462.3L825.6,471.3L819.5,475.4L811.4,473.4Z"/>
<ellipse class="t" cx="820.5" cy="466.3" rx="5.4" ry="8.2" transform="rotate(30 820.5 466.3)"/>
<path class="t" d="M813.4,459.2L814.9,467.3L811.4,473.4"/>
<path class="o" style="stroke-width:2.2" d="M824.5,482.4C824.5,479.8 825.7,474.2 827.6,471.3C829.4,468.5 832.4,466.3 835.6,465.3C838.8,464.3 844.5,465.3 846.7,465.3L853.2,470.3C852.3,472.2 850.5,476.6 848.7,479.4C847,482.3 845,485.7 842.7,487.5C840.3,489.3 837.1,490.1 834.6,490.1C832.1,490.1 829.2,488.8 827.6,487.5C825.9,486.2 824.5,485.1 824.5,482.4Z"/>
<ellipse class="o2" cx="837.7" cy="477.4" rx="5.4" ry="9.4" transform="rotate(25 837.7 477.4)"/>
<ellipse class="t" cx="839.1" cy="478" rx="3.6" ry="7.4" transform="rotate(25 839.1 478)"/>
<ellipse class="t" cx="847.1" cy="472.4" rx="1.4" ry="1.8"/>
<path class="t" d="M836.3,472.1L841.3,473.8"/>
<path class="t" d="M836.3,474.6L841.3,476.3"/>
<path class="t" d="M836.3,477.1L841.3,478.8"/>
<path class="t" d="M836.3,479.6L841.3,481.3"/>
<path class="t" d="M836.3,482.1L841.3,483.8"/>
<g transform="translate(863.9 480) rotate(-154.9)"><rect x="0" y="-2.2" width="10.5" height="4.4" rx="1" fill="#111" stroke="#000" stroke-width=".8"/><ellipse cx="0" cy="0" rx="2.4" ry="3.2" fill="#111" stroke="#000" stroke-width=".8"/><path d="M3.3,-1.5L3.8,1.5M5,-1.5L5.5,1.5M6.7,-1.5L7.2,1.5M8.4,-1.5L8.9,1.5" stroke="#aaa" stroke-width=".45" fill="none"/><path d="M-1,-1.6Q-1.8,0 -1,1.6" stroke="#ccc" stroke-width=".6" fill="none"/><ellipse cx="9.9" cy="0" rx="1.2" ry="1.8" fill="#fff" stroke="#000" stroke-width=".5"/></g>
</g>
<g id="leaders"><path class="ld" d="M81.3,86.7L84.5,116.8"/>
<path class="ld" d="M97.1,97.9L91.3,119.6"/>
<path class="ld" d="M113.6,107.9L104.7,120.6"/>
<path class="ld" d="M133.7,118L125.4,123.8"/>
<path class="g" d="M125.4,131.4L131.2,128.1L114.8,140.2"/>
<path class="ld" d="M194.3,124.3L182.9,133.2"/>
<path class="g" d="M186.7,138.2L189.8,140L167.8,152.9"/>
<path class="ld" d="M215.7,135.7L210.7,147.1"/>
<path class="g" d="M219.5,153.9L223.3,155.9L204.4,166"/>
<path class="ld" d="M66.1,172.8L70.7,188.2"/>
<path class="ld" d="M241.5,152L213.5,170.5"/>
<path class="ld" d="M43.3,208.5L58.8,213.6"/>
<path class="ld" d="M43.3,227L58,225.4"/>
<path class="ld" d="M43.3,247L48.4,248.4"/>
<path class="g" d="M55.1,210.5L65.2,204.8L84.1,213.6"/>
<path class="g" d="M86.1,226.2L104.3,217.8"/>
<path class="ld" d="M100.1,281.8L111,287.6"/>
<path class="ld" d="M127,249L127,262.8"/>
<path class="g" d="M107.2,253.1L118.6,252.1"/>
<path class="g" d="M114.4,252.2L126.2,252.9L132.1,258.1L157.8,255.9"/>
<path class="ld" d="M174.7,266.2L164.4,279.4"/>
<path class="ld" d="M195.6,276.5L185,291.2"/>
<path class="ld" d="M200.4,279.1L199.7,302.9"/>
<path class="ld" d="M102.5,334L77.7,341.9"/>
<path class="ld" d="M154,362.2L146.3,385.6"/>
<path class="ld" d="M167.8,373L143.8,407.1"/>
<path class="ld" d="M185.5,386.1L168.6,394.7"/>
<path class="ld" d="M201.9,393.2L191.8,395.7"/>
<path class="g" d="M174.1,402L191.8,395.7L195.6,397.7L188,402.8"/>
<path class="ld" d="M231,407.2L213.1,450.5"/>
<path class="ld" d="M248,418.5L227.6,456.1"/>
<path class="ld" d="M66,431.8L63.8,423.4"/>
<path class="ld" d="M113.6,455L143.8,424.7"/>
<path class="ld" d="M127.4,468.9L133.7,457.5"/>
<path class="ld" d="M151.4,479L157.7,468.9"/>
<path class="g" d="M114.8,450L161.5,403.3"/>
<path class="g" d="M156.4,414.6L176.6,403.3"/>
<path class="ld" d="M322.5,461.5L317.5,482.1"/>
<path class="ld" d="M297.1,450.3L254.3,476.8"/>
<path class="ld" d="M280.7,443.2L246.7,474.3"/>
<path class="ld" d="M263.1,428.8L237.9,465.4"/>
<path class="ld" d="M408,541L408.4,547.1"/>
<path class="ld" d="M328.9,156.8L325,162.6"/>
<path class="ld" d="M351,169L345.7,175.9"/>
<path class="ld" d="M293.7,180L288.1,185.9"/>
<path class="ld" d="M315.1,191.7L314,199.3"/>
<path class="ld" d="M351.2,211L345.9,224"/>
<path class="ld" d="M375.7,226.3L375.7,239.3"/>
<path class="ld" d="M395.5,237L392.5,244.7"/>
<path class="ld" d="M413.9,249.3L402.7,259.2"/>
<path class="ld" d="M238.7,203.9L233.3,230.2"/>
<path class="ld" d="M265.4,217.6L263.6,223.3"/>
<path class="ld" d="M292.9,233.6L292.2,259.3"/>
<path class="ld" d="M314.3,245.6L316.2,260.9"/>
<path class="ld" d="M330.4,257.8L322,270.8"/>
<path class="ld" d="M351,267.7L340.3,283.8"/>
<path class="ld" d="M261.5,313.1L259.9,291.4"/>
<path class="ld" d="M288.2,324.3L287.4,306.7"/>
<path class="g" d="M287.4,289.9L275.2,295.2L278.3,297.2"/>
<path class="ld" d="M314.2,338L326.4,314.3"/>
<path class="ld" d="M340.2,351.8L355.5,322.7"/>
<path class="ld" d="M217.4,301.7L219.3,315.4"/>
<path class="ld" d="M240.4,320L240.4,328.7"/>
<path class="ld" d="M387.7,393.2L397.8,384.3"/>
<path class="ld" d="M407.9,405.8L410.4,393.2"/>
<path class="ld" d="M213.8,48.8L223.6,45.7"/>
<path class="ld" d="M182.9,71.1L185.7,85.4"/>
<path class="ld" d="M248.6,98.8L254.8,89.8"/>
<path class="ld" d="M320,100.5L312.9,90.7"/>
<path class="ld" d="M418,24.8L411.6,30.3"/>
<path class="ld" d="M349.3,25.7L355.7,19.3"/>
<path class="ld" d="M337.3,48L355.7,53.2"/>
<path class="ld" d="M432.7,72.4L440,67.9"/>
<path class="ld" d="M404.3,82.5L394.2,67.5"/>
<path class="ld" d="M399.3,56.5L414.7,49.9"/>
<path class="ld" d="M386.8,93.9L380.4,70.6"/>
<path class="ld" d="M455.8,142.3L431.1,136.8"/>
<path class="ld" d="M443,158.3L408.1,154.6"/>
<path class="ld" d="M430.1,170.2L396.6,163.8"/>
<path class="ld" d="M419.1,183.1L391.6,167.5"/>
<path class="ld" d="M406.3,195.9L389.8,179.4"/>
<path class="ld" d="M487.5,187L478.8,233"/>
<path class="ld" d="M504,198L486.6,235.8"/>
<path class="ld" d="M520.9,208.3L499.8,239.4"/>
<path class="ld" d="M536.5,218.3L530.1,225.7"/>
<path class="ld" d="M561.3,233.9L538.4,251.3"/>
<path class="ld" d="M601.6,255L584.2,287.1"/>
<path class="ld" d="M492.5,273.4L499.8,270.6"/>
<path class="ld" d="M520,295.4L515.4,291.7"/>
<path class="ld" d="M629.3,271.8L616.7,289"/>
<path class="ld" d="M651.1,284.4L631.6,303.9"/>
<path class="ld" d="M677.5,299.3L668.3,308.5"/>
<path class="ld" d="M700.5,313.1L692.4,326.9"/>
<path class="ld" d="M722.3,324.6L714.2,339.5"/>
<path class="ld" d="M744.1,336L724.6,368.2"/>
<path class="ld" d="M482.4,325.1L449.9,340.4"/>
<path class="ld" d="M535.4,349.9L518.2,350.9"/>
<path class="ld" d="M566,368L558.5,410"/>
<path class="ld" d="M582,379L568,416"/>
<path class="ld" d="M600,389.5L582,426"/>
<path class="ld" d="M619,401.5L596,433"/>
<path class="ld" d="M637,411L618,432"/>
<path class="ld" d="M660.2,425.6L647.2,445"/>
<path class="ld" d="M675.5,434L658.3,450.9"/>
<path class="ld" d="M692.3,445L664.8,461.9"/>
<path class="ld" d="M710.7,454.7L682.1,475.3"/>
<path class="ld" d="M509,429.9L519,408.9"/>
<path class="ld" d="M523,437.9L533.9,413.9"/>
<path class="ld" d="M540.9,448.8L544.3,419.9"/>
<path class="ld" d="M411,447L445.6,441"/>
<path class="ld" d="M429.6,455.3L461.5,450.2"/>
<path class="ld" d="M448.1,465.7L471.6,461.2"/>
<path class="ld" d="M467.4,475.5L488,472.9"/>
<path class="ld" d="M484.3,485.6L502.8,481.4"/>
<path class="ld" d="M501.9,493.1L529.7,480.5"/>
<path class="ld" d="M515.4,503.2L534.7,480.5"/>
<path class="ld" d="M531.1,512.1L535.3,491.8"/>
<path class="ld" d="M546.7,523.9L543.9,492.8"/>
<path class="ld" d="M564.3,533.5L559.5,513.2"/>
<path class="ld" d="M580.3,544.2L566.4,518.1"/>
<path class="ld" d="M600.7,555.4L594.2,536.1"/>
<path class="ld" d="M508,537.8L511,532.5"/>
<path class="ld" d="M701.7,526L693.7,519.1"/>
<path class="ld" d="M722.4,544.3L700.6,553.5"/>
<path class="ld" d="M740.7,554.7L708.6,560.4"/>
<path class="ld" d="M760.2,565L729.2,571.9"/>
<path class="ld" d="M778.5,575.3L756.8,577.6"/>
<path class="ld" d="M777.1,512.7L793.3,504.6"/>
<path class="ld" d="M790.3,523.8L803.4,509.1"/>
<path class="ld" d="M808.4,534.9L819.5,518.7"/>
<path class="ld" d="M829.6,548L842.7,542.9"/>
<path class="ld" d="M878,511.7L869.9,516.7"/>
<path class="ld" d="M830.6,449.2L822.5,457.2"/>
<path class="ld" d="M851.8,460.3L846.7,465.9"/>
<path class="ld" d="M869.9,471.3L864.5,477.4"/>
<path class="ld" d="M802.8,591.9L793.2,605.7"/>
<path class="ld" d="M819.3,602.1L802.8,615.3"/>
<path class="ld" d="M835.8,612.6L819.3,620.8"/>
<path class="ld" d="M851.8,562.5L889.5,557.5"/>
<path class="ld" d="M868.9,572.7L899.1,562.5"/>
<path class="ld" d="M888.7,582.3L910.1,571.3"/></g>
<g id="labels">
<ellipse class="le" cx="81" cy="79.5" rx="11.1" ry="7.9"/><text class="lt" transform="translate(81 83.2) scale(0.86 1)">44</text>
<ellipse class="le" cx="100" cy="90" rx="11.1" ry="7.9"/><text class="lt" transform="translate(100 93.7) scale(0.86 1)">80</text>
<ellipse class="le" cx="119.5" cy="101" rx="11.1" ry="7.9"/><text class="lt" transform="translate(119.5 104.7) scale(0.86 1)">79</text>
<ellipse class="le" cx="138" cy="112.5" rx="11.1" ry="7.9"/><text class="lt" transform="translate(138 116.2) scale(0.86 1)">44</text>
<ellipse class="le" cx="203" cy="51" rx="11.1" ry="7.9"/><text class="lt" transform="translate(203 54.7) scale(0.86 1)">75</text>
<ellipse class="le" cx="182" cy="63" rx="11.1" ry="7.9"/><text class="lt" transform="translate(182 66.7) scale(0.86 1)">75</text>
<ellipse class="le" cx="245" cy="106" rx="11.1" ry="7.9"/><text class="lt" transform="translate(245 109.7) scale(0.86 1)">75</text>
<ellipse class="le" cx="200" cy="119" rx="11.1" ry="7.9"/><text class="lt" transform="translate(200 122.7) scale(0.86 1)">78</text>
<ellipse class="le" cx="219" cy="130" rx="11.1" ry="7.9"/><text class="lt" transform="translate(219 133.7) scale(0.86 1)">77</text>
<ellipse class="le" cx="252" cy="148.5" rx="11.1" ry="7.9"/><text class="lt" transform="translate(252 152.2) scale(0.86 1)">76</text>
<ellipse class="le" cx="64" cy="165" rx="11.1" ry="7.9"/><text class="lt" transform="translate(64 168.7) scale(0.86 1)">69</text>
<ellipse class="le" cx="32" cy="207" rx="11.1" ry="7.9"/><text class="lt" transform="translate(32 210.7) scale(0.86 1)">68</text>
<ellipse class="le" cx="32" cy="227" rx="11.1" ry="7.9"/><text class="lt" transform="translate(32 230.7) scale(0.86 1)">67</text>
<ellipse class="le" cx="32" cy="247" rx="11.1" ry="7.9"/><text class="lt" transform="translate(32 250.7) scale(0.86 1)">66</text>
<ellipse class="lb" cx="241.5" cy="196" rx="11.3" ry="8.3"/><text class="ltb" transform="translate(241.5 200.1) scale(.84 1)">15</text>
<ellipse class="le" cx="298.5" cy="173" rx="11.1" ry="7.9"/><text class="lt" transform="translate(298.5 176.7) scale(0.86 1)">50</text>
<ellipse class="le" cx="268" cy="211" rx="11.1" ry="7.9"/><text class="lt" transform="translate(268 214.7) scale(0.86 1)">56</text>
<ellipse class="le" cx="425.5" cy="17.5" rx="11.1" ry="7.9"/><text class="lt" transform="translate(425.5 21.2) scale(0.86 1)">70</text>
<ellipse class="le" cx="345" cy="33" rx="11.1" ry="7.9"/><text class="lt" transform="translate(345 36.7) scale(0.86 1)">71</text>
<ellipse class="le" cx="326" cy="44.5" rx="11.1" ry="7.9"/><text class="lt" transform="translate(326 48.2) scale(0.86 1)">73</text>
<ellipse class="le" cx="428.5" cy="79" rx="11.1" ry="7.9"/><text class="lt" transform="translate(428.5 82.7) scale(0.86 1)">71</text>
<ellipse class="le" cx="409.3" cy="91.2" rx="11.1" ry="7.9"/><text class="lt" transform="translate(409.3 94.9) scale(0.86 1)">72</text>
<ellipse class="le" cx="389.5" cy="102" rx="11.1" ry="7.9"/><text class="lt" transform="translate(389.5 105.7) scale(0.86 1)">73</text>
<ellipse class="le" cx="324.4" cy="110.6" rx="11.1" ry="7.9"/><text class="lt" transform="translate(324.4 114.3) scale(0.86 1)">74</text>
<ellipse class="le" cx="466" cy="145" rx="11.1" ry="7.9"/><text class="lt" transform="translate(466 148.7) scale(0.86 1)">40</text>
<ellipse class="le" cx="452" cy="160" rx="11.1" ry="7.9"/><text class="lt" transform="translate(452 163.7) scale(0.86 1)">41</text>
<ellipse class="le" cx="439.5" cy="174" rx="11.1" ry="7.9"/><text class="lt" transform="translate(439.5 177.7) scale(0.86 1)">42</text>
<ellipse class="le" cx="426" cy="188" rx="11.1" ry="7.9"/><text class="lt" transform="translate(426 191.7) scale(0.86 1)">42</text>
<ellipse class="le" cx="412.5" cy="202" rx="11.1" ry="7.9"/><text class="lt" transform="translate(412.5 205.7) scale(0.86 1)">43</text>
<ellipse class="le" cx="332.5" cy="148.5" rx="11.1" ry="7.9"/><text class="lt" transform="translate(332.5 152.2) scale(0.86 1)">45</text>
<ellipse class="le" cx="356" cy="162" rx="11.1" ry="7.9"/><text class="lt" transform="translate(356 165.7) scale(0.86 1)">44</text>
<ellipse class="le" cx="316.5" cy="185" rx="11.1" ry="7.9"/><text class="lt" transform="translate(316.5 188.7) scale(0.86 1)">49</text>
<ellipse class="le" cx="353" cy="204" rx="11.1" ry="7.9"/><text class="lt" transform="translate(353 207.7) scale(0.86 1)">48</text>
<ellipse class="lb" cx="376" cy="218" rx="11.3" ry="8.3"/><text class="ltb" transform="translate(376 222.1) scale(.84 1)">47</text>
<ellipse class="le" cx="397" cy="230" rx="11.1" ry="7.9"/><text class="lt" transform="translate(397 233.7) scale(0.86 1)">46</text>
<ellipse class="le" cx="419.5" cy="242.5" rx="11.1" ry="7.9"/><text class="lt" transform="translate(419.5 246.2) scale(0.86 1)">44</text>
<ellipse class="le" cx="293.5" cy="225.5" rx="11.1" ry="7.9"/><text class="lt" transform="translate(293.5 229.2) scale(0.86 1)">55</text>
<ellipse class="le" cx="313.5" cy="237.5" rx="11.1" ry="7.9"/><text class="lt" transform="translate(313.5 241.2) scale(0.86 1)">54</text>
<ellipse class="le" cx="336" cy="250.5" rx="11.1" ry="7.9"/><text class="lt" transform="translate(336 254.2) scale(0.86 1)">53</text>
<ellipse class="le" cx="356" cy="262" rx="11.1" ry="7.9"/><text class="lt" transform="translate(356 265.7) scale(0.86 1)">52</text>
<ellipse class="le" cx="127" cy="270" rx="11.1" ry="7.9"/><text class="lt" transform="translate(127 273.7) scale(0.86 1)">64</text>
<ellipse class="le" cx="114" cy="293" rx="11.1" ry="7.9"/><text class="lt" transform="translate(114 296.7) scale(0.86 1)">65</text>
<ellipse class="le" cx="159" cy="288" rx="11.1" ry="7.9"/><text class="lt" transform="translate(159 291.7) scale(0.86 1)">62</text>
<ellipse class="le" cx="178.5" cy="299.5" rx="11.1" ry="7.9"/><text class="lt" transform="translate(178.5 303.2) scale(0.86 1)">61</text>
<ellipse class="le" cx="199" cy="310.5" rx="11.1" ry="7.9"/><text class="lt" transform="translate(199 314.2) scale(0.86 1)">60</text>
<ellipse class="le" cx="221" cy="324" rx="11.1" ry="7.9"/><text class="lt" transform="translate(221 327.7) scale(0.86 1)">59</text>
<ellipse class="le" cx="241" cy="335" rx="11.1" ry="7.9"/><text class="lt" transform="translate(241 338.7) scale(0.86 1)">58</text>
<ellipse class="le" cx="266" cy="319.5" rx="11.1" ry="7.9"/><text class="lt" transform="translate(266 323.2) scale(0.86 1)">57</text>
<ellipse class="le" cx="288" cy="332.5" rx="11.1" ry="7.9"/><text class="lt" transform="translate(288 336.2) scale(0.86 1)">54</text>
<ellipse class="le" cx="310" cy="345" rx="11.1" ry="7.9"/><text class="lt" transform="translate(310 348.7) scale(0.86 1)">52</text>
<ellipse class="le" cx="334" cy="359" rx="11.1" ry="7.9"/><text class="lt" transform="translate(334 362.7) scale(0.86 1)">51</text>
<ellipse class="le" cx="113.5" cy="332" rx="11.1" ry="7.9"/><text class="lt" transform="translate(113.5 335.7) scale(0.86 1)">91</text>
<ellipse class="le" cx="154" cy="355" rx="11.1" ry="7.9"/><text class="lt" transform="translate(154 358.7) scale(0.86 1)">89</text>
<ellipse class="le" cx="173.5" cy="366.5" rx="11.1" ry="7.9"/><text class="lt" transform="translate(173.5 370.2) scale(0.86 1)">88</text>
<ellipse class="le" cx="193" cy="377.5" rx="11.1" ry="7.9"/><text class="lt" transform="translate(193 381.2) scale(0.86 1)">86</text>
<ellipse class="le" cx="212.5" cy="389" rx="11.1" ry="7.9"/><text class="lt" transform="translate(212.5 392.7) scale(0.86 1)">86</text>
<ellipse class="le" cx="231.5" cy="400" rx="11.1" ry="7.9"/><text class="lt" transform="translate(231.5 403.7) scale(0.86 1)">84</text>
<ellipse class="lb" cx="250.5" cy="411" rx="11.3" ry="8.3"/><text class="ltb" transform="translate(250.5 415.1) scale(.84 1)">24</text>
<ellipse class="le" cx="270" cy="421.5" rx="11.1" ry="7.9"/><text class="lt" transform="translate(270 425.2) scale(0.86 1)">23</text>
<ellipse class="le" cx="290" cy="432" rx="11.1" ry="7.9"/><text class="lt" transform="translate(290 435.7) scale(0.86 1)">83</text>
<ellipse class="le" cx="308" cy="444" rx="11.1" ry="7.9"/><text class="lt" transform="translate(308 447.7) scale(0.86 1)">82</text>
<ellipse class="le" cx="327" cy="455" rx="11.1" ry="7.9"/><text class="lt" transform="translate(327 458.7) scale(0.86 1)">81</text>
<ellipse class="le" cx="66" cy="439" rx="11.1" ry="7.9"/><text class="lt" transform="translate(66 442.7) scale(0.86 1)">90</text>
<ellipse class="le" cx="107" cy="461" rx="11.1" ry="7.9"/><text class="lt" transform="translate(107 464.7) scale(0.86 1)">87</text>
<ellipse class="le" cx="126" cy="474" rx="11.1" ry="7.9"/><text class="lt" transform="translate(126 477.7) scale(0.86 1)">86</text>
<ellipse class="le" cx="147" cy="485.5" rx="11.1" ry="7.9"/><text class="lt" transform="translate(147 489.2) scale(0.86 1)">85</text>
<ellipse class="lb" cx="400" cy="446.5" rx="11.3" ry="8.3"/><text class="ltb" transform="translate(400 450.6) scale(.84 1)">24</text>
<ellipse class="le" cx="419" cy="457.5" rx="11.1" ry="7.9"/><text class="lt" transform="translate(419 461.2) scale(0.86 1)">23</text>
<ellipse class="le" cx="437.5" cy="467.5" rx="11.1" ry="7.9"/><text class="lt" transform="translate(437.5 471.2) scale(0.86 1)">22</text>
<ellipse class="le" cx="455.5" cy="478.5" rx="11.1" ry="7.9"/><text class="lt" transform="translate(455.5 482.2) scale(0.86 1)">20</text>
<ellipse class="le" cx="474" cy="489" rx="11.1" ry="7.9"/><text class="lt" transform="translate(474 492.7) scale(0.86 1)">19</text>
<ellipse class="le" cx="492" cy="499.5" rx="11.1" ry="7.9"/><text class="lt" transform="translate(492 503.2) scale(0.86 1)">7</text>
<ellipse class="le" cx="510" cy="510" rx="11.1" ry="7.9"/><text class="lt" transform="translate(510 513.7) scale(0.86 1)">8</text>
<ellipse class="le" cx="529" cy="521" rx="11.1" ry="7.9"/><text class="lt" transform="translate(529 524.7) scale(0.86 1)">18</text>
<ellipse class="le" cx="547" cy="531.5" rx="11.1" ry="7.9"/><text class="lt" transform="translate(547 535.2) scale(0.86 1)">17</text>
<ellipse class="le" cx="565" cy="542" rx="11.1" ry="7.9"/><text class="lt" transform="translate(565 545.7) scale(0.86 1)">93</text>
<ellipse class="le" cx="583.5" cy="552.5" rx="11.1" ry="7.9"/><text class="lt" transform="translate(583.5 556.2) scale(0.86 1)">92</text>
<ellipse class="le" cx="602" cy="563" rx="11.1" ry="7.9"/><text class="lt" transform="translate(602 566.7) scale(0.86 1)">16</text>
<ellipse class="le" style="stroke-width:1.2;stroke:#000" cx="500.5" cy="549.2" rx="16.2" ry="11.6"/><text class="ltL" transform="translate(500.5 555.0) scale(.8 1)">21</text>
<ellipse class="le" cx="408" cy="533.5" rx="11.1" ry="7.9"/><text class="lt" transform="translate(408 537.2) scale(0.78 1)">101</text>
<ellipse class="le" cx="521" cy="445" rx="11.1" ry="7.9"/><text class="lt" transform="translate(521 448.7) scale(0.86 1)">14</text>
<ellipse class="le" cx="539" cy="456" rx="11.1" ry="7.9"/><text class="lt" transform="translate(539 459.7) scale(0.86 1)">13</text>
<ellipse class="le" cx="382" cy="400.5" rx="11.1" ry="7.9"/><text class="lt" transform="translate(382 404.2) scale(0.86 1)">63</text>
<ellipse class="le" cx="405" cy="412.5" rx="11.1" ry="7.9"/><text class="lt" transform="translate(405 416.2) scale(0.86 1)">94</text>
<ellipse class="le" cx="487.5" cy="179.5" rx="11.1" ry="7.9"/><text class="lt" transform="translate(487.5 183.2) scale(0.86 1)">39</text>
<ellipse class="le" cx="506.5" cy="190.5" rx="11.1" ry="7.9"/><text class="lt" transform="translate(506.5 194.2) scale(0.86 1)">38</text>
<ellipse class="lb" cx="526" cy="201.5" rx="11.3" ry="8.3"/><text class="ltb" transform="translate(526 205.6) scale(.84 1)">37</text>
<ellipse class="le" cx="545" cy="212" rx="11.1" ry="7.9"/><text class="lt" transform="translate(545 215.7) scale(0.86 1)">35</text>
<ellipse class="le" cx="481.5" cy="276.5" rx="11.1" ry="7.9"/><text class="lt" transform="translate(481.5 280.2) scale(0.86 1)">36</text>
<ellipse class="le" cx="526.5" cy="301.5" rx="11.1" ry="7.9"/><text class="lt" transform="translate(526.5 305.2) scale(0.86 1)">35</text>
<ellipse class="le" cx="571" cy="227.5" rx="11.1" ry="7.9"/><text class="lt" transform="translate(571 231.2) scale(0.86 1)">34</text>
<ellipse class="le" cx="605" cy="247.5" rx="11.1" ry="7.9"/><text class="lt" transform="translate(605 251.2) scale(0.86 1)">33</text>
<ellipse class="le" cx="632" cy="263" rx="11.1" ry="7.9"/><text class="lt" transform="translate(632 266.7) scale(0.86 1)">32</text>
<ellipse class="le" cx="656.5" cy="277.5" rx="11.1" ry="7.9"/><text class="lt" transform="translate(656.5 281.2) scale(0.86 1)">31</text>
<ellipse class="le" cx="682.5" cy="292" rx="11.1" ry="7.9"/><text class="lt" transform="translate(682.5 295.7) scale(0.86 1)">30</text>
<ellipse class="le" cx="706" cy="306" rx="11.1" ry="7.9"/><text class="lt" transform="translate(706 309.7) scale(0.86 1)">29</text>
<ellipse class="le" cx="727" cy="317.5" rx="11.1" ry="7.9"/><text class="lt" transform="translate(727 321.2) scale(0.86 1)">28</text>
<ellipse class="le" cx="748" cy="329" rx="11.1" ry="7.9"/><text class="lt" transform="translate(748 332.7) scale(0.86 1)">27</text>
<ellipse class="lb" cx="493" cy="318" rx="11.3" ry="8.3"/><text class="ltb" transform="translate(493 322.1) scale(.84 1)">26</text>
<ellipse class="le" cx="546.5" cy="349" rx="11.1" ry="7.9"/><text class="lt" transform="translate(546.5 352.7) scale(0.86 1)">25</text>
<ellipse class="le" cx="566" cy="360.5" rx="11.1" ry="7.9"/><text class="lt" transform="translate(566 364.2) scale(0.86 1)">13</text>
<ellipse class="le" cx="585" cy="371.5" rx="11.1" ry="7.9"/><text class="lt" transform="translate(585 375.2) scale(0.86 1)">12</text>
<ellipse class="le" cx="604.5" cy="382.5" rx="11.1" ry="7.9"/><text class="lt" transform="translate(604.5 386.2) scale(0.86 1)">11</text>
<ellipse class="le" cx="624" cy="394.5" rx="11.1" ry="7.9"/><text class="lt" transform="translate(624 398.2) scale(0.86 1)">10</text>
<ellipse class="le" cx="642.5" cy="404.5" rx="11.1" ry="7.9"/><text class="lt" transform="translate(642.5 408.2) scale(0.86 1)">9</text>
<ellipse class="le" cx="662" cy="416" rx="11.1" ry="7.9"/><text class="lt" transform="translate(662 419.7) scale(0.86 1)">8</text>
<ellipse class="le" cx="681" cy="427" rx="11.1" ry="7.9"/><text class="lt" transform="translate(681 430.7) scale(0.86 1)">7</text>
<ellipse class="le" cx="700" cy="438.5" rx="11.1" ry="7.9"/><text class="lt" transform="translate(700 442.2) scale(0.86 1)">6</text>
<ellipse class="le" cx="720" cy="449" rx="11.1" ry="7.9"/><text class="lt" transform="translate(720 452.7) scale(0.86 1)">5</text>
<ellipse class="lb" cx="501" cy="432" rx="11.3" ry="8.3"/><text class="ltb" transform="translate(501 436.1) scale(.84 1)">15</text>
<ellipse class="le" cx="836" cy="441.5" rx="11.1" ry="7.9"/><text class="lt" transform="translate(836 445.2) scale(0.86 1)">3</text>
<ellipse class="le" cx="854.5" cy="452.5" rx="11.1" ry="7.9"/><text class="lt" transform="translate(854.5 456.2) scale(0.86 1)">2</text>
<ellipse class="le" cx="873" cy="463.5" rx="11.1" ry="7.9"/><text class="lt" transform="translate(873 467.2) scale(0.86 1)">1</text>
<ellipse class="le" style="stroke-width:1.2;stroke:#000" cx="891" cy="504.3" rx="16.2" ry="11.6"/><text class="ltL" transform="translate(891 510.1) scale(.8 1)">4</text>
<ellipse class="le" cx="711.5" cy="529.5" rx="10.9" ry="7.8"/><text class="ltw" transform="translate(711.5 533.3) scale(.66 1)">1500</text>
<ellipse class="lb" cx="730" cy="541.5" rx="11.3" ry="8.3"/><text class="ltb" transform="translate(730 545.6) scale(.84 1)">47</text>
<ellipse class="le" cx="749.5" cy="552" rx="10.9" ry="7.8"/><text class="ltw" transform="translate(749.5 555.8) scale(.66 1)">1300</text>
<ellipse class="le" cx="768.5" cy="562.5" rx="10.9" ry="7.8"/><text class="ltw" transform="translate(768.5 566.3) scale(.66 1)">1400</text>
<ellipse class="le" cx="787.5" cy="573" rx="10.9" ry="7.8"/><text class="ltw" transform="translate(787.5 576.8) scale(.66 1)">1000</text>
<ellipse class="lb" cx="805" cy="584" rx="11.3" ry="8.3"/><text class="ltb" transform="translate(805 588.1) scale(.84 1)">47</text>
<ellipse class="le" cx="824.5" cy="595" rx="10.9" ry="7.8"/><text class="ltw" transform="translate(824.5 598.8) scale(.66 1)">1200</text>
<ellipse class="le" cx="843" cy="606" rx="10.9" ry="7.8"/><text class="ltw" transform="translate(843 609.8) scale(.66 1)">1100</text>
<ellipse class="lb" cx="767" cy="519.5" rx="11.3" ry="8.3"/><text class="ltb" transform="translate(767 523.6) scale(.84 1)">47</text>
<ellipse class="le" cx="783.5" cy="532" rx="10.9" ry="7.8"/><text class="ltw" transform="translate(783.5 535.8) scale(.66 1)">1300</text>
<ellipse class="le" cx="802.5" cy="542.5" rx="10.9" ry="7.8"/><text class="ltw" transform="translate(802.5 546.3) scale(.66 1)">1400</text>
<ellipse class="le" cx="821.5" cy="553" rx="10.9" ry="7.8"/><text class="ltw" transform="translate(821.5 556.8) scale(.66 1)">1000</text>
<ellipse class="lb" cx="841" cy="564" rx="11.3" ry="8.3"/><text class="ltb" transform="translate(841 568.1) scale(.84 1)">47</text>
<ellipse class="le" cx="859.5" cy="575" rx="10.9" ry="7.8"/><text class="ltw" transform="translate(859.5 578.8) scale(.66 1)">1200</text>
<ellipse class="le" cx="878.5" cy="586" rx="10.9" ry="7.8"/><text class="ltw" transform="translate(878.5 589.8) scale(.66 1)">1100</text>
</g>
<g id="notes">
<text class="jp" x="33.5" y="600" textLength="212" lengthAdjust="spacingAndGlyphs">※白ヌキ番号はベアリングを示します</text>
<text class="jp" x="32" y="621" textLength="160" lengthAdjust="spacingAndGlyphs">調整座金類に関しましては、</text>
<text class="jp" x="188" y="621" textLength="358" lengthAdjust="spacingAndGlyphs">必ずしも分解図中の表現と一致しない場合がございますので、</text>
<text class="jp" x="32" y="639" textLength="445" lengthAdjust="spacingAndGlyphs">ご了承下さい。（商品により使用している場合とそうでない場合がございます。）</text>
</g>
</svg>
</body></html>
